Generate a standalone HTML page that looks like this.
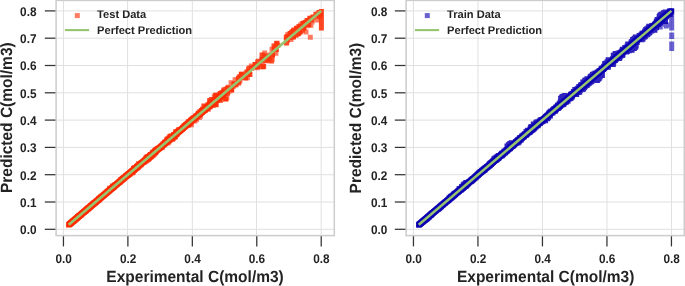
<!DOCTYPE html>
<html><head><meta charset="utf-8"><style>
html,body{margin:0;padding:0;background:#fff;}
svg{display:block;will-change:transform}
text{font-family:"Liberation Sans",sans-serif;font-weight:bold;fill:#232323;text-rendering:geometricPrecision}
.g{stroke:#e0e0e0;stroke-width:1}
.t{stroke:#333;stroke-width:1.25}
.tl{font-size:11.8px}
.al{font-size:15.5px}
.lg{font-size:11.1px}
</style></head><body>
<svg width="685" height="286" viewBox="0 0 685 286">
<rect width="685" height="286" fill="#fff"/>
<line x1="63.45" y1="0.4" x2="63.45" y2="235.6" class="g"/>
<line x1="127.59" y1="0.4" x2="127.59" y2="235.6" class="g"/>
<line x1="192.33" y1="0.4" x2="192.33" y2="235.6" class="g"/>
<line x1="256.47" y1="0.4" x2="256.47" y2="235.6" class="g"/>
<line x1="321.21" y1="0.4" x2="321.21" y2="235.6" class="g"/>
<line x1="56.1" y1="229.30" x2="334.3" y2="229.30" class="g"/>
<line x1="56.1" y1="202.00" x2="334.3" y2="202.00" class="g"/>
<line x1="56.1" y1="174.70" x2="334.3" y2="174.70" class="g"/>
<line x1="56.1" y1="147.40" x2="334.3" y2="147.40" class="g"/>
<line x1="56.1" y1="120.10" x2="334.3" y2="120.10" class="g"/>
<line x1="56.1" y1="92.80" x2="334.3" y2="92.80" class="g"/>
<line x1="56.1" y1="65.50" x2="334.3" y2="65.50" class="g"/>
<line x1="56.1" y1="38.20" x2="334.3" y2="38.20" class="g"/>
<line x1="56.1" y1="10.90" x2="334.3" y2="10.90" class="g"/>
<path d="M66.1 222.2L221.9 90.2h5.3v5.3L71.4 227.5h-5.3z" fill="#ff2a00"/>
<path d="M166.2 139.6h5v5h-5zM166.5 138.7h5v5h-5zM99.1 193.8h5v5h-5zM96.5 195.9h5v5h-5zM96.9 195.6h5v5h-5zM98.1 194.8h5v5h-5zM97.1 195.6h5v5h-5zM211.6 99.0h5v5h-5zM211.8 100.1h5v5h-5zM299.6 21.5h5v5h-5zM300.0 21.5h5v5h-5zM300.0 23.0h5v5h-5zM300.7 21.0h5v5h-5zM70.0 219.0h5v5h-5zM243.7 70.2h5v5h-5zM199.1 109.0h5v5h-5zM202.8 104.9h5v5h-5zM202.2 107.9h5v5h-5zM204.2 105.0h5v5h-5zM203.6 105.9h5v5h-5zM84.2 207.0h5v5h-5zM79.6 210.9h5v5h-5zM81.4 209.4h5v5h-5zM82.4 208.6h5v5h-5zM249.2 66.1h5v5h-5zM309.5 19.5h5v5h-5zM304.8 23.3h5v5h-5zM272.5 47.8h5v5h-5zM270.0 52.4h5v5h-5zM272.7 50.7h5v5h-5zM211.0 98.3h5v5h-5zM208.6 99.9h5v5h-5zM208.6 99.0h5v5h-5zM131.7 165.6h5v5h-5zM135.3 162.7h5v5h-5zM207.1 100.6h5v5h-5zM204.8 102.5h5v5h-5zM204.8 103.1h5v5h-5zM207.6 100.5h5v5h-5zM126.6 171.4h5v5h-5zM128.6 169.7h5v5h-5zM126.4 171.7h5v5h-5zM200.7 108.8h5v5h-5zM201.2 108.1h5v5h-5zM265.2 56.8h5v5h-5zM266.6 57.0h5v5h-5zM235.3 78.9h5v5h-5zM212.6 97.0h5v5h-5zM83.3 208.3h5v5h-5zM83.3 208.3h5v5h-5zM83.9 207.7h5v5h-5zM161.9 139.8h5v5h-5zM129.7 170.4h5v5h-5zM129.6 169.6h5v5h-5zM130.6 169.6h5v5h-5zM295.1 27.2h5v5h-5zM166.8 137.7h5v5h-5zM169.5 135.3h5v5h-5zM164.1 139.9h5v5h-5zM289.2 31.3h5v5h-5zM106.7 187.9h5v5h-5zM70.9 218.6h5v5h-5zM67.7 221.4h5v5h-5zM68.3 220.9h5v5h-5zM70.5 218.5h5v5h-5zM68.6 220.1h5v5h-5zM70.5 218.5h5v5h-5zM150.0 152.5h5v5h-5zM148.7 154.3h5v5h-5zM152.4 151.3h5v5h-5zM117.0 179.6h5v5h-5zM296.5 26.6h5v5h-5zM311.6 16.2h5v5h-5zM313.3 14.6h5v5h-5zM252.4 62.1h5v5h-5zM253.4 64.0h5v5h-5zM96.4 197.5h5v5h-5zM96.4 197.3h5v5h-5zM256.6 63.4h5v5h-5zM255.5 63.5h5v5h-5zM262.5 52.6h5v5h-5zM143.1 157.4h5v5h-5zM143.2 158.1h5v5h-5zM145.7 155.4h5v5h-5zM187.8 118.1h5v5h-5zM231.4 81.6h5v5h-5zM238.3 75.0h5v5h-5zM235.6 78.9h5v5h-5zM109.4 185.2h5v5h-5zM152.2 148.3h5v5h-5zM99.5 194.0h5v5h-5zM99.3 194.2h5v5h-5zM185.8 122.7h5v5h-5zM189.7 118.2h5v5h-5zM187.4 120.9h5v5h-5zM213.9 92.4h5v5h-5zM211.8 94.3h5v5h-5zM169.2 133.8h5v5h-5zM167.9 134.1h5v5h-5zM169.2 133.3h5v5h-5zM174.1 129.4h5v5h-5zM153.7 147.7h5v5h-5zM151.9 149.2h5v5h-5zM254.9 65.2h5v5h-5zM203.4 105.9h5v5h-5zM184.5 122.2h5v5h-5zM147.4 152.9h5v5h-5zM148.6 152.2h5v5h-5zM147.2 153.5h5v5h-5zM215.7 97.2h5v5h-5zM213.4 99.8h5v5h-5zM212.6 100.5h5v5h-5zM215.4 97.7h5v5h-5zM150.2 151.2h5v5h-5zM149.9 151.9h5v5h-5zM136.0 161.3h5v5h-5zM136.2 161.0h5v5h-5zM192.9 113.2h5v5h-5zM196.9 109.3h5v5h-5zM218.9 96.7h5v5h-5zM218.4 96.2h5v5h-5zM184.1 121.6h5v5h-5zM180.9 124.6h5v5h-5zM181.5 123.8h5v5h-5zM186.0 119.3h5v5h-5zM292.7 27.9h5v5h-5zM231.8 81.3h5v5h-5zM170.2 136.4h5v5h-5zM173.0 133.9h5v5h-5zM260.1 64.4h5v5h-5zM289.1 35.0h5v5h-5zM159.8 145.0h5v5h-5zM106.0 188.5h5v5h-5zM106.8 187.6h5v5h-5zM104.0 190.4h5v5h-5zM104.1 190.2h5v5h-5zM109.2 185.9h5v5h-5zM106.2 188.5h5v5h-5zM105.5 188.7h5v5h-5zM240.6 71.7h5v5h-5zM239.2 71.7h5v5h-5zM302.4 21.4h5v5h-5zM301.3 21.9h5v5h-5zM294.7 32.1h5v5h-5zM293.4 33.1h5v5h-5zM296.8 30.3h5v5h-5zM316.6 13.5h5v5h-5zM308.0 17.2h5v5h-5zM88.3 203.4h5v5h-5zM88.4 203.3h5v5h-5zM130.2 169.2h5v5h-5zM217.1 95.0h5v5h-5zM237.3 78.5h5v5h-5zM236.1 80.7h5v5h-5zM262.2 50.5h5v5h-5zM147.5 152.7h5v5h-5zM148.4 152.2h5v5h-5zM144.6 156.1h5v5h-5zM145.9 154.6h5v5h-5zM112.6 183.1h5v5h-5zM111.5 184.4h5v5h-5zM110.2 185.5h5v5h-5zM109.6 185.9h5v5h-5zM145.2 154.1h5v5h-5zM144.6 154.1h5v5h-5zM143.4 155.3h5v5h-5zM143.3 155.5h5v5h-5zM144.6 154.4h5v5h-5zM210.8 103.0h5v5h-5zM213.2 102.0h5v5h-5zM218.7 91.9h5v5h-5zM218.7 91.5h5v5h-5zM305.4 19.0h5v5h-5zM305.4 18.3h5v5h-5zM301.1 22.9h5v5h-5zM72.2 217.5h5v5h-5zM213.9 97.9h5v5h-5zM214.9 96.8h5v5h-5zM213.2 96.2h5v5h-5zM93.4 199.5h5v5h-5zM91.2 201.5h5v5h-5zM91.5 201.3h5v5h-5zM90.0 202.4h5v5h-5zM92.5 200.3h5v5h-5zM92.5 200.5h5v5h-5zM92.3 200.6h5v5h-5zM218.3 92.4h5v5h-5zM221.1 89.0h5v5h-5zM221.6 89.6h5v5h-5zM175.2 128.5h5v5h-5zM176.8 127.7h5v5h-5zM223.6 96.3h5v5h-5zM224.3 95.3h5v5h-5zM221.7 96.2h5v5h-5zM317.9 12.0h5v5h-5zM84.7 206.7h5v5h-5zM82.5 208.4h5v5h-5zM84.8 206.4h5v5h-5zM83.3 207.9h5v5h-5zM84.7 206.8h5v5h-5zM180.7 124.8h5v5h-5zM179.8 126.6h5v5h-5zM178.4 127.1h5v5h-5zM249.6 63.5h5v5h-5zM196.8 115.0h5v5h-5zM194.1 117.0h5v5h-5zM197.9 113.8h5v5h-5zM192.5 118.6h5v5h-5zM188.9 122.3h5v5h-5zM135.5 165.3h5v5h-5zM137.2 163.5h5v5h-5zM138.9 162.3h5v5h-5zM256.6 62.7h5v5h-5zM112.3 181.9h5v5h-5zM107.6 185.9h5v5h-5zM96.0 197.4h5v5h-5zM94.6 198.6h5v5h-5zM294.2 25.9h5v5h-5zM298.1 22.6h5v5h-5zM169.1 136.4h5v5h-5zM168.3 137.0h5v5h-5zM167.6 137.7h5v5h-5zM160.3 141.4h5v5h-5zM154.9 146.1h5v5h-5zM203.1 107.8h5v5h-5zM210.2 101.2h5v5h-5zM207.2 102.6h5v5h-5zM207.9 102.7h5v5h-5zM76.9 213.4h5v5h-5zM82.0 209.0h5v5h-5zM77.6 212.9h5v5h-5zM151.4 152.0h5v5h-5zM147.2 155.3h5v5h-5zM131.6 168.0h5v5h-5zM134.0 166.1h5v5h-5zM135.7 164.9h5v5h-5zM244.4 69.5h5v5h-5zM219.5 90.0h5v5h-5zM222.2 89.3h5v5h-5zM221.6 88.8h5v5h-5zM221.4 90.4h5v5h-5zM218.4 92.0h5v5h-5zM218.1 93.2h5v5h-5zM217.8 93.5h5v5h-5zM68.8 220.1h5v5h-5zM70.7 218.4h5v5h-5zM69.8 219.3h5v5h-5zM69.9 219.1h5v5h-5zM237.7 76.3h5v5h-5zM239.6 73.6h5v5h-5zM227.1 86.4h5v5h-5zM317.0 13.1h5v5h-5zM315.3 14.6h5v5h-5zM259.2 57.0h5v5h-5zM301.3 25.3h5v5h-5zM301.6 25.1h5v5h-5zM308.3 15.6h5v5h-5zM307.2 15.7h5v5h-5zM124.6 172.5h5v5h-5zM126.9 171.1h5v5h-5zM227.2 86.7h5v5h-5zM228.5 85.9h5v5h-5zM203.6 105.8h5v5h-5zM245.7 69.8h5v5h-5zM243.0 71.6h5v5h-5zM246.4 71.2h5v5h-5zM86.2 205.7h5v5h-5zM88.1 203.8h5v5h-5zM86.3 205.5h5v5h-5zM76.3 213.5h5v5h-5zM85.5 205.6h5v5h-5zM84.3 206.7h5v5h-5zM83.3 207.4h5v5h-5zM84.7 206.2h5v5h-5zM202.4 105.2h5v5h-5zM206.1 102.3h5v5h-5zM204.1 104.6h5v5h-5zM97.3 196.1h5v5h-5zM92.8 199.7h5v5h-5zM92.2 200.3h5v5h-5zM93.7 199.1h5v5h-5zM93.3 199.5h5v5h-5zM84.8 206.7h5v5h-5zM85.1 206.5h5v5h-5zM225.8 84.8h5v5h-5zM224.8 86.7h5v5h-5zM162.6 141.2h5v5h-5zM163.3 140.6h5v5h-5zM198.0 109.0h5v5h-5zM195.0 112.6h5v5h-5zM294.7 28.3h5v5h-5zM206.1 105.0h5v5h-5zM206.4 103.5h5v5h-5zM266.2 55.0h5v5h-5zM143.9 156.2h5v5h-5zM107.0 188.3h5v5h-5zM101.3 193.2h5v5h-5zM181.4 122.9h5v5h-5zM177.3 127.4h5v5h-5zM73.2 216.4h5v5h-5zM72.1 217.3h5v5h-5zM75.2 214.6h5v5h-5zM84.7 206.5h5v5h-5zM75.3 214.3h5v5h-5zM235.1 77.1h5v5h-5zM237.0 74.5h5v5h-5zM236.3 75.9h5v5h-5zM143.4 155.9h5v5h-5zM147.6 152.2h5v5h-5zM143.5 156.3h5v5h-5zM128.0 170.3h5v5h-5zM128.7 169.7h5v5h-5zM125.2 171.7h5v5h-5zM128.9 169.4h5v5h-5zM74.7 215.2h5v5h-5zM74.6 215.3h5v5h-5zM76.3 213.9h5v5h-5zM108.3 186.4h5v5h-5zM108.4 186.2h5v5h-5zM104.1 189.7h5v5h-5zM107.2 187.0h5v5h-5zM166.8 134.8h5v5h-5zM164.9 136.2h5v5h-5zM166.8 134.3h5v5h-5zM68.4 220.7h5v5h-5zM70.8 218.8h5v5h-5zM68.1 220.9h5v5h-5zM69.7 219.6h5v5h-5zM74.3 215.9h5v5h-5zM71.2 218.4h5v5h-5zM72.8 217.2h5v5h-5zM227.7 85.4h5v5h-5zM191.1 117.4h5v5h-5zM297.2 28.1h5v5h-5zM284.3 36.6h5v5h-5zM110.7 184.2h5v5h-5zM113.9 181.7h5v5h-5zM112.0 183.6h5v5h-5zM113.1 182.2h5v5h-5zM111.9 183.8h5v5h-5zM79.0 211.4h5v5h-5zM81.8 209.2h5v5h-5zM79.6 210.9h5v5h-5zM79.5 211.0h5v5h-5zM244.9 75.3h5v5h-5zM170.6 133.7h5v5h-5zM170.7 134.1h5v5h-5zM169.0 135.3h5v5h-5zM171.1 133.1h5v5h-5zM303.7 19.6h5v5h-5zM303.0 21.3h5v5h-5zM303.1 21.3h5v5h-5zM301.6 22.6h5v5h-5zM270.6 49.7h5v5h-5zM268.8 52.3h5v5h-5zM232.6 77.2h5v5h-5zM230.8 80.4h5v5h-5zM228.6 80.2h5v5h-5zM134.0 164.4h5v5h-5zM151.9 150.2h5v5h-5zM148.8 152.3h5v5h-5zM230.6 83.5h5v5h-5zM230.8 84.0h5v5h-5zM75.9 214.6h5v5h-5zM78.5 212.5h5v5h-5zM78.1 212.7h5v5h-5zM75.6 215.0h5v5h-5zM78.0 213.1h5v5h-5zM104.6 189.7h5v5h-5zM101.2 192.3h5v5h-5zM116.0 179.7h5v5h-5zM117.1 178.9h5v5h-5zM205.9 106.8h5v5h-5zM241.5 74.5h5v5h-5zM241.8 74.8h5v5h-5zM134.9 163.6h5v5h-5zM273.4 48.0h5v5h-5zM273.4 50.8h5v5h-5zM314.6 13.8h5v5h-5zM134.7 163.9h5v5h-5zM134.8 164.1h5v5h-5zM134.2 164.3h5v5h-5zM136.0 162.7h5v5h-5zM87.4 204.6h5v5h-5zM86.6 205.3h5v5h-5zM86.4 205.5h5v5h-5zM295.0 28.2h5v5h-5zM296.9 28.0h5v5h-5zM121.0 175.0h5v5h-5zM119.7 176.0h5v5h-5zM120.1 175.8h5v5h-5zM127.5 170.2h5v5h-5zM129.1 168.9h5v5h-5zM128.1 169.7h5v5h-5zM133.2 167.0h5v5h-5zM221.9 92.1h5v5h-5zM118.3 177.8h5v5h-5zM119.3 176.9h5v5h-5zM244.3 72.1h5v5h-5zM247.0 68.9h5v5h-5zM273.9 41.6h5v5h-5zM226.5 87.4h5v5h-5zM226.2 88.4h5v5h-5zM227.1 88.6h5v5h-5zM225.5 88.7h5v5h-5zM174.4 131.3h5v5h-5zM176.6 128.5h5v5h-5zM173.9 131.4h5v5h-5zM172.6 132.2h5v5h-5zM173.8 131.6h5v5h-5zM228.8 88.1h5v5h-5zM229.1 87.4h5v5h-5zM291.4 28.2h5v5h-5zM217.4 92.9h5v5h-5zM216.6 92.4h5v5h-5zM221.6 89.1h5v5h-5zM216.6 93.6h5v5h-5zM137.5 161.8h5v5h-5zM136.8 162.3h5v5h-5zM204.1 105.7h5v5h-5zM206.9 103.2h5v5h-5zM206.7 103.8h5v5h-5zM156.1 146.0h5v5h-5zM154.2 146.6h5v5h-5zM191.0 117.3h5v5h-5zM190.0 118.4h5v5h-5zM82.2 209.0h5v5h-5zM83.0 208.4h5v5h-5zM82.0 209.1h5v5h-5zM84.3 207.1h5v5h-5zM237.4 73.9h5v5h-5zM117.4 179.3h5v5h-5zM118.5 178.0h5v5h-5zM190.5 117.3h5v5h-5zM190.5 116.2h5v5h-5zM189.1 116.9h5v5h-5zM186.6 119.0h5v5h-5zM143.8 157.6h5v5h-5zM140.9 159.7h5v5h-5zM143.8 158.5h5v5h-5zM145.1 156.9h5v5h-5zM295.0 26.5h5v5h-5zM309.0 18.0h5v5h-5zM288.5 37.0h5v5h-5zM165.5 137.4h5v5h-5zM73.3 216.0h5v5h-5zM90.2 201.9h5v5h-5zM173.9 130.9h5v5h-5zM169.8 133.7h5v5h-5zM171.5 132.0h5v5h-5zM103.8 190.6h5v5h-5zM102.8 191.2h5v5h-5zM101.7 192.2h5v5h-5zM253.0 62.1h5v5h-5zM85.1 206.4h5v5h-5zM86.1 205.5h5v5h-5zM150.4 152.4h5v5h-5zM125.8 173.0h5v5h-5zM126.5 172.0h5v5h-5zM127.5 171.8h5v5h-5zM107.8 186.8h5v5h-5zM110.8 184.1h5v5h-5zM109.5 184.9h5v5h-5zM175.3 130.1h5v5h-5zM174.6 131.6h5v5h-5zM174.8 130.6h5v5h-5zM167.3 135.8h5v5h-5zM99.6 193.4h5v5h-5zM204.0 104.3h5v5h-5zM199.8 108.3h5v5h-5zM219.2 95.3h5v5h-5zM216.5 97.2h5v5h-5zM145.3 157.0h5v5h-5zM145.1 157.4h5v5h-5zM148.9 154.0h5v5h-5zM196.7 112.3h5v5h-5zM196.3 112.6h5v5h-5zM94.6 198.3h5v5h-5zM96.1 197.2h5v5h-5zM95.1 198.0h5v5h-5zM96.2 196.9h5v5h-5zM88.2 203.6h5v5h-5zM89.1 203.0h5v5h-5zM88.1 203.8h5v5h-5zM134.9 164.7h5v5h-5zM135.0 164.3h5v5h-5zM134.8 164.8h5v5h-5zM165.4 140.5h5v5h-5zM132.2 165.5h5v5h-5zM132.3 165.4h5v5h-5zM134.5 165.2h5v5h-5zM173.7 131.8h5v5h-5zM174.2 131.8h5v5h-5zM91.2 200.7h5v5h-5zM212.6 97.3h5v5h-5zM215.4 96.2h5v5h-5zM150.5 152.5h5v5h-5zM151.2 152.0h5v5h-5zM149.4 153.4h5v5h-5zM148.1 155.0h5v5h-5zM151.1 152.7h5v5h-5zM148.3 154.5h5v5h-5zM289.6 29.8h5v5h-5zM88.6 203.5h5v5h-5zM86.9 204.9h5v5h-5zM86.5 205.3h5v5h-5zM90.7 201.8h5v5h-5zM85.5 206.3h5v5h-5zM87.2 204.8h5v5h-5zM83.6 207.9h5v5h-5zM166.2 137.7h5v5h-5zM163.9 139.2h5v5h-5zM163.0 139.9h5v5h-5zM162.3 140.6h5v5h-5zM149.4 153.6h5v5h-5zM149.3 153.9h5v5h-5zM219.3 95.4h5v5h-5zM217.9 97.9h5v5h-5zM217.4 98.1h5v5h-5zM296.8 30.2h5v5h-5zM244.7 69.2h5v5h-5zM243.8 71.2h5v5h-5zM248.9 63.5h5v5h-5zM288.8 30.5h5v5h-5zM190.8 116.0h5v5h-5zM87.1 204.5h5v5h-5zM197.0 110.9h5v5h-5zM200.9 108.4h5v5h-5zM199.8 109.4h5v5h-5zM70.6 218.7h5v5h-5zM69.9 219.3h5v5h-5zM68.1 220.7h5v5h-5zM303.5 29.4h5v5h-5zM307.8 34.8h5v5h-5zM308.4 22.7h5v5h-5zM314.5 17.5h5v5h-5zM294.5 25.5h5v5h-5zM300.0 21.5h5v5h-5zM308.5 18.0h5v5h-5zM285.3 32.1h5v5h-5zM273.8 42.5h5v5h-5zM269.5 46.8h5v5h-5z" fill="#ff2a00" fill-opacity="0.62"/>
<path d="M168.8 136.3h5v5h-5zM96.6 196.1h5v5h-5zM98.4 194.5h5v5h-5zM212.1 100.2h5v5h-5zM300.3 21.4h5v5h-5zM303.0 19.9h5v5h-5zM70.1 219.0h5v5h-5zM200.8 108.3h5v5h-5zM81.3 209.5h5v5h-5zM81.3 209.4h5v5h-5zM306.2 22.2h5v5h-5zM270.1 52.2h5v5h-5zM134.7 163.5h5v5h-5zM131.0 166.0h5v5h-5zM131.4 166.0h5v5h-5zM134.2 163.9h5v5h-5zM206.5 101.7h5v5h-5zM201.8 107.5h5v5h-5zM274.5 40.8h5v5h-5zM274.3 41.0h5v5h-5zM267.5 53.2h5v5h-5zM264.8 58.3h5v5h-5zM236.1 79.0h5v5h-5zM236.3 79.4h5v5h-5zM213.2 96.0h5v5h-5zM211.6 97.5h5v5h-5zM213.8 94.9h5v5h-5zM83.4 208.1h5v5h-5zM84.1 207.7h5v5h-5zM83.1 208.5h5v5h-5zM162.3 139.8h5v5h-5zM129.7 169.7h5v5h-5zM130.1 169.9h5v5h-5zM296.3 25.9h5v5h-5zM101.4 192.7h5v5h-5zM70.1 219.3h5v5h-5zM116.8 179.8h5v5h-5zM296.5 26.0h5v5h-5zM251.9 64.4h5v5h-5zM94.1 199.3h5v5h-5zM255.5 64.1h5v5h-5zM259.9 54.1h5v5h-5zM261.2 53.6h5v5h-5zM260.2 54.0h5v5h-5zM143.2 158.2h5v5h-5zM145.0 156.2h5v5h-5zM190.6 115.4h5v5h-5zM188.2 117.7h5v5h-5zM271.7 47.1h5v5h-5zM273.8 47.0h5v5h-5zM108.4 186.0h5v5h-5zM109.1 185.5h5v5h-5zM150.2 149.7h5v5h-5zM152.5 148.4h5v5h-5zM153.1 147.3h5v5h-5zM151.7 148.9h5v5h-5zM96.2 196.9h5v5h-5zM101.8 191.8h5v5h-5zM99.0 194.5h5v5h-5zM187.6 119.6h5v5h-5zM188.1 120.4h5v5h-5zM213.1 93.8h5v5h-5zM212.9 93.0h5v5h-5zM149.9 151.9h5v5h-5zM171.3 132.0h5v5h-5zM176.6 127.4h5v5h-5zM153.8 147.7h5v5h-5zM153.7 147.9h5v5h-5zM155.5 145.8h5v5h-5zM255.7 61.3h5v5h-5zM186.3 122.2h5v5h-5zM184.0 122.9h5v5h-5zM184.9 122.1h5v5h-5zM186.9 119.2h5v5h-5zM150.3 150.9h5v5h-5zM147.4 153.3h5v5h-5zM216.9 97.0h5v5h-5zM150.1 151.2h5v5h-5zM195.7 110.7h5v5h-5zM217.3 97.3h5v5h-5zM217.2 96.8h5v5h-5zM210.9 99.6h5v5h-5zM208.9 99.5h5v5h-5zM212.4 97.3h5v5h-5zM183.1 122.0h5v5h-5zM185.6 119.7h5v5h-5zM83.3 207.8h5v5h-5zM231.4 81.4h5v5h-5zM261.1 64.0h5v5h-5zM111.2 184.2h5v5h-5zM291.0 34.6h5v5h-5zM290.8 32.2h5v5h-5zM289.9 33.2h5v5h-5zM275.3 42.7h5v5h-5zM158.2 145.3h5v5h-5zM200.0 106.8h5v5h-5zM198.9 108.0h5v5h-5zM200.1 107.4h5v5h-5zM201.4 103.5h5v5h-5zM239.4 72.8h5v5h-5zM238.8 71.8h5v5h-5zM298.5 26.1h5v5h-5zM295.9 31.0h5v5h-5zM316.4 13.7h5v5h-5zM307.6 16.3h5v5h-5zM308.7 17.4h5v5h-5zM87.0 204.4h5v5h-5zM88.7 203.2h5v5h-5zM90.6 201.4h5v5h-5zM89.0 202.8h5v5h-5zM90.4 201.8h5v5h-5zM132.0 167.8h5v5h-5zM130.4 169.5h5v5h-5zM129.9 169.5h5v5h-5zM221.2 92.2h5v5h-5zM232.3 82.5h5v5h-5zM259.6 52.5h5v5h-5zM147.2 153.6h5v5h-5zM148.0 152.1h5v5h-5zM148.3 152.4h5v5h-5zM111.5 184.4h5v5h-5zM108.0 187.0h5v5h-5zM109.7 185.8h5v5h-5zM144.4 155.0h5v5h-5zM213.6 102.3h5v5h-5zM219.7 90.4h5v5h-5zM217.2 92.5h5v5h-5zM304.6 17.9h5v5h-5zM303.2 22.0h5v5h-5zM305.1 18.6h5v5h-5zM71.3 218.2h5v5h-5zM72.5 217.2h5v5h-5zM73.4 216.4h5v5h-5zM212.6 98.6h5v5h-5zM91.4 201.3h5v5h-5zM90.8 202.0h5v5h-5zM88.1 203.9h5v5h-5zM221.0 91.2h5v5h-5zM176.2 127.2h5v5h-5zM173.2 129.3h5v5h-5zM223.2 96.5h5v5h-5zM313.4 12.0h5v5h-5zM317.9 12.2h5v5h-5zM81.8 209.0h5v5h-5zM82.7 208.3h5v5h-5zM79.9 210.7h5v5h-5zM81.0 209.8h5v5h-5zM180.0 126.2h5v5h-5zM180.6 125.2h5v5h-5zM178.6 127.3h5v5h-5zM247.1 65.5h5v5h-5zM120.1 176.9h5v5h-5zM121.3 176.2h5v5h-5zM117.8 179.2h5v5h-5zM257.0 61.4h5v5h-5zM259.9 58.8h5v5h-5zM107.3 185.7h5v5h-5zM110.0 183.5h5v5h-5zM96.2 197.5h5v5h-5zM96.9 196.7h5v5h-5zM294.0 26.1h5v5h-5zM172.5 132.7h5v5h-5zM159.4 143.2h5v5h-5zM206.3 103.9h5v5h-5zM81.3 209.6h5v5h-5zM223.6 86.8h5v5h-5zM217.5 91.9h5v5h-5zM218.3 92.9h5v5h-5zM220.2 91.6h5v5h-5zM238.4 74.9h5v5h-5zM227.4 86.4h5v5h-5zM227.3 86.7h5v5h-5zM263.7 53.4h5v5h-5zM301.3 25.8h5v5h-5zM268.5 56.9h5v5h-5zM268.9 58.4h5v5h-5zM269.5 57.1h5v5h-5zM126.3 171.0h5v5h-5zM125.3 172.5h5v5h-5zM124.1 173.6h5v5h-5zM126.4 171.9h5v5h-5zM228.2 86.3h5v5h-5zM207.5 101.0h5v5h-5zM204.8 105.7h5v5h-5zM203.7 105.7h5v5h-5zM204.9 104.2h5v5h-5zM240.6 72.8h5v5h-5zM235.8 77.4h5v5h-5zM87.3 204.8h5v5h-5zM84.0 207.4h5v5h-5zM86.5 205.4h5v5h-5zM83.2 208.2h5v5h-5zM76.4 213.6h5v5h-5zM74.9 214.9h5v5h-5zM201.7 105.2h5v5h-5zM203.9 103.7h5v5h-5zM96.3 197.0h5v5h-5zM84.3 207.1h5v5h-5zM88.1 204.0h5v5h-5zM223.3 86.8h5v5h-5zM225.2 85.9h5v5h-5zM221.4 87.6h5v5h-5zM225.6 85.4h5v5h-5zM207.7 104.2h5v5h-5zM208.6 103.0h5v5h-5zM206.5 103.5h5v5h-5zM268.1 52.8h5v5h-5zM142.9 157.0h5v5h-5zM142.1 157.9h5v5h-5zM72.2 217.2h5v5h-5zM73.2 216.2h5v5h-5zM73.1 216.4h5v5h-5zM82.6 208.4h5v5h-5zM75.4 214.3h5v5h-5zM75.1 214.5h5v5h-5zM72.2 216.9h5v5h-5zM236.3 75.4h5v5h-5zM145.7 154.2h5v5h-5zM128.0 170.0h5v5h-5zM127.6 170.3h5v5h-5zM129.4 168.6h5v5h-5zM128.0 169.7h5v5h-5zM74.6 215.2h5v5h-5zM72.9 216.7h5v5h-5zM108.4 186.1h5v5h-5zM109.4 185.3h5v5h-5zM166.5 135.7h5v5h-5zM167.9 133.7h5v5h-5zM164.2 137.3h5v5h-5zM68.9 220.3h5v5h-5zM70.8 218.6h5v5h-5zM69.7 219.5h5v5h-5zM73.1 216.8h5v5h-5zM72.9 216.9h5v5h-5zM70.4 219.2h5v5h-5zM192.9 115.2h5v5h-5zM218.1 94.7h5v5h-5zM293.0 31.7h5v5h-5zM284.7 38.1h5v5h-5zM283.9 40.5h5v5h-5zM287.1 35.1h5v5h-5zM291.9 31.4h5v5h-5zM112.5 182.9h5v5h-5zM67.0 221.7h5v5h-5zM68.3 220.5h5v5h-5zM80.7 210.0h5v5h-5zM83.7 207.6h5v5h-5zM247.4 72.0h5v5h-5zM171.6 133.0h5v5h-5zM300.3 23.5h5v5h-5zM131.9 165.5h5v5h-5zM134.0 164.3h5v5h-5zM132.5 165.2h5v5h-5zM150.3 151.3h5v5h-5zM151.4 150.5h5v5h-5zM233.5 82.3h5v5h-5zM232.3 81.3h5v5h-5zM78.7 212.2h5v5h-5zM103.7 190.0h5v5h-5zM103.9 190.3h5v5h-5zM101.7 191.9h5v5h-5zM243.1 75.4h5v5h-5zM132.3 165.7h5v5h-5zM134.9 163.5h5v5h-5zM191.3 115.3h5v5h-5zM131.6 166.7h5v5h-5zM86.7 205.2h5v5h-5zM84.5 206.9h5v5h-5zM86.1 205.6h5v5h-5zM85.4 206.3h5v5h-5zM118.4 177.1h5v5h-5zM123.3 173.3h5v5h-5zM224.9 90.8h5v5h-5zM120.2 176.4h5v5h-5zM117.9 178.3h5v5h-5zM244.7 70.4h5v5h-5zM272.7 47.0h5v5h-5zM225.2 89.5h5v5h-5zM229.0 86.4h5v5h-5zM227.9 86.4h5v5h-5zM174.3 131.4h5v5h-5zM229.2 87.0h5v5h-5zM183.8 121.7h5v5h-5zM291.3 28.4h5v5h-5zM292.0 27.8h5v5h-5zM217.6 90.9h5v5h-5zM218.2 93.1h5v5h-5zM217.0 93.6h5v5h-5zM138.0 161.2h5v5h-5zM138.9 160.1h5v5h-5zM83.0 208.4h5v5h-5zM81.6 209.6h5v5h-5zM119.3 177.3h5v5h-5zM121.1 176.0h5v5h-5zM238.6 74.1h5v5h-5zM119.8 176.8h5v5h-5zM119.0 177.6h5v5h-5zM283.8 35.1h5v5h-5zM285.5 34.0h5v5h-5zM189.6 116.6h5v5h-5zM188.7 117.5h5v5h-5zM142.1 159.5h5v5h-5zM146.7 156.1h5v5h-5zM290.6 29.0h5v5h-5zM284.2 39.4h5v5h-5zM165.5 137.0h5v5h-5zM166.4 136.5h5v5h-5zM201.0 107.9h5v5h-5zM76.2 213.7h5v5h-5zM101.6 192.3h5v5h-5zM101.9 192.2h5v5h-5zM105.5 188.8h5v5h-5zM255.2 59.4h5v5h-5zM252.9 62.1h5v5h-5zM256.1 58.7h5v5h-5zM84.6 206.7h5v5h-5zM85.1 206.4h5v5h-5zM149.5 153.0h5v5h-5zM130.4 169.0h5v5h-5zM111.9 183.4h5v5h-5zM178.4 127.2h5v5h-5zM172.4 133.2h5v5h-5zM174.2 132.0h5v5h-5zM170.1 133.7h5v5h-5zM271.9 45.8h5v5h-5zM273.5 44.9h5v5h-5zM273.5 45.2h5v5h-5zM273.8 44.6h5v5h-5zM104.7 189.3h5v5h-5zM104.1 189.9h5v5h-5zM217.1 96.6h5v5h-5zM146.0 156.7h5v5h-5zM145.4 156.2h5v5h-5zM146.0 156.6h5v5h-5zM95.2 197.8h5v5h-5zM92.7 200.2h5v5h-5zM86.4 205.3h5v5h-5zM89.4 202.7h5v5h-5zM135.5 164.4h5v5h-5zM170.1 136.6h5v5h-5zM170.6 136.1h5v5h-5zM134.8 165.2h5v5h-5zM135.3 164.1h5v5h-5zM132.1 166.6h5v5h-5zM172.4 134.8h5v5h-5zM171.2 134.4h5v5h-5zM173.8 132.3h5v5h-5zM91.0 201.0h5v5h-5zM91.8 200.3h5v5h-5zM89.6 202.3h5v5h-5zM91.0 201.0h5v5h-5zM90.7 201.3h5v5h-5zM87.1 204.5h5v5h-5zM87.8 203.7h5v5h-5zM91.6 200.6h5v5h-5zM214.4 97.9h5v5h-5zM153.4 149.9h5v5h-5zM293.3 28.9h5v5h-5zM290.1 29.7h5v5h-5zM287.6 33.0h5v5h-5zM288.2 31.0h5v5h-5zM88.6 203.3h5v5h-5zM207.2 98.1h5v5h-5zM209.1 97.1h5v5h-5zM162.5 140.3h5v5h-5zM147.0 155.0h5v5h-5zM148.7 153.9h5v5h-5zM148.6 154.1h5v5h-5zM297.9 29.3h5v5h-5zM299.8 27.7h5v5h-5zM246.1 66.6h5v5h-5zM284.0 34.5h5v5h-5zM289.6 29.8h5v5h-5zM85.7 205.6h5v5h-5zM85.6 205.9h5v5h-5zM68.5 220.5h5v5h-5zM70.3 219.0h5v5h-5zM70.1 219.2h5v5h-5zM318.9 9.0h5v5h-5zM318.9 11.4h5v5h-5zM318.9 13.7h5v5h-5zM318.9 16.1h5v5h-5zM318.9 18.4h5v5h-5zM318.9 20.8h5v5h-5zM318.9 23.1h5v5h-5zM318.9 25.5h5v5h-5zM287.5 31.0h5v5h-5zM291.5 27.5h5v5h-5zM296.5 24.0h5v5h-5zM301.5 20.5h5v5h-5zM305.5 18.5h5v5h-5zM310.5 14.5h5v5h-5zM314.5 11.5h5v5h-5zM316.5 10.0h5v5h-5zM271.5 43.5h5v5h-5z" fill="#ff2a00" fill-opacity="0.86"/>
<path d="" fill="#ff2a00" fill-opacity="1"/>
<line x1="68.73" y1="224.82" x2="321.21" y2="10.90" stroke="#97c46f" stroke-width="2.65" stroke-linecap="butt"/>
<rect x="56.1" y="0.4" width="278.2" height="235.2" fill="none" stroke="#cccccc" stroke-width="1.5"/>
<line x1="44.8" y1="229.30" x2="55.4" y2="229.30" class="t"/>
<text transform="translate(36.5,234.25) scale(1,1.07)" class="tl" text-anchor="end">0.0</text>
<line x1="44.8" y1="202.00" x2="55.4" y2="202.00" class="t"/>
<text transform="translate(36.5,206.95) scale(1,1.07)" class="tl" text-anchor="end">0.1</text>
<line x1="44.8" y1="174.70" x2="55.4" y2="174.70" class="t"/>
<text transform="translate(36.5,179.65) scale(1,1.07)" class="tl" text-anchor="end">0.2</text>
<line x1="44.8" y1="147.40" x2="55.4" y2="147.40" class="t"/>
<text transform="translate(36.5,152.35) scale(1,1.07)" class="tl" text-anchor="end">0.3</text>
<line x1="44.8" y1="120.10" x2="55.4" y2="120.10" class="t"/>
<text transform="translate(36.5,125.05) scale(1,1.07)" class="tl" text-anchor="end">0.4</text>
<line x1="44.8" y1="92.80" x2="55.4" y2="92.80" class="t"/>
<text transform="translate(36.5,97.75) scale(1,1.07)" class="tl" text-anchor="end">0.5</text>
<line x1="44.8" y1="65.50" x2="55.4" y2="65.50" class="t"/>
<text transform="translate(36.5,70.45) scale(1,1.07)" class="tl" text-anchor="end">0.6</text>
<line x1="44.8" y1="38.20" x2="55.4" y2="38.20" class="t"/>
<text transform="translate(36.5,43.15) scale(1,1.07)" class="tl" text-anchor="end">0.7</text>
<line x1="44.8" y1="10.90" x2="55.4" y2="10.90" class="t"/>
<text transform="translate(36.5,15.85) scale(1,1.07)" class="tl" text-anchor="end">0.8</text>
<line x1="63.45" y1="236.3" x2="63.45" y2="246.4" class="t"/>
<text transform="translate(63.65,263.3) scale(1,1.07)" class="tl" text-anchor="middle">0.0</text>
<line x1="127.89" y1="236.3" x2="127.89" y2="246.4" class="t"/>
<text transform="translate(128.09,263.3) scale(1,1.07)" class="tl" text-anchor="middle">0.2</text>
<line x1="192.33" y1="236.3" x2="192.33" y2="246.4" class="t"/>
<text transform="translate(192.53,263.3) scale(1,1.07)" class="tl" text-anchor="middle">0.4</text>
<line x1="256.77" y1="236.3" x2="256.77" y2="246.4" class="t"/>
<text transform="translate(256.97,263.3) scale(1,1.07)" class="tl" text-anchor="middle">0.6</text>
<line x1="321.21" y1="236.3" x2="321.21" y2="246.4" class="t"/>
<text transform="translate(321.41,263.3) scale(1,1.07)" class="tl" text-anchor="middle">0.8</text>
<text transform="translate(195.05,282.2) scale(1,1.05)" class="al" text-anchor="middle">Experimental C(mol/m3)</text>
<text transform="translate(11.6,117.7) rotate(-90) scale(1,1.05)" class="al" text-anchor="middle">Predicted C(mol/m3)</text>
<rect x="74.8" y="13.1" width="5" height="5" fill="#ff2a00" fill-opacity="0.62"/>
<line x1="64.9" y1="30.1" x2="89.1" y2="30.1" stroke="#97c46f" stroke-width="2.1"/>
<text x="97.1" y="18.4" class="lg">Test Data</text>
<text x="97.1" y="33.6" class="lg">Perfect Prediction</text>
<line x1="413.45" y1="0.4" x2="413.45" y2="235.6" class="g"/>
<line x1="477.95" y1="0.4" x2="477.95" y2="235.6" class="g"/>
<line x1="542.45" y1="0.4" x2="542.45" y2="235.6" class="g"/>
<line x1="606.95" y1="0.4" x2="606.95" y2="235.6" class="g"/>
<line x1="671.45" y1="0.4" x2="671.45" y2="235.6" class="g"/>
<line x1="406.1" y1="229.30" x2="684.3" y2="229.30" class="g"/>
<line x1="406.1" y1="202.00" x2="684.3" y2="202.00" class="g"/>
<line x1="406.1" y1="174.70" x2="684.3" y2="174.70" class="g"/>
<line x1="406.1" y1="147.40" x2="684.3" y2="147.40" class="g"/>
<line x1="406.1" y1="120.10" x2="684.3" y2="120.10" class="g"/>
<line x1="406.1" y1="92.80" x2="684.3" y2="92.80" class="g"/>
<line x1="406.1" y1="65.50" x2="684.3" y2="65.50" class="g"/>
<line x1="406.1" y1="38.20" x2="684.3" y2="38.20" class="g"/>
<line x1="406.1" y1="10.90" x2="684.3" y2="10.90" class="g"/>
<path d="M416.1 222.2L668.8 8.3h5.3v5.3L421.4 227.5h-5.3z" fill="#0c00b2"/>
<path d="M669.2 9.0h5v5h-5zM669.2 10.8h5v5h-5zM669.2 12.7h5v5h-5zM669.2 14.5h5v5h-5zM669.2 16.3h5v5h-5zM669.2 18.2h5v5h-5zM669.2 20.0h5v5h-5zM669.2 21.8h5v5h-5zM669.2 23.7h5v5h-5zM669.2 25.5h5v5h-5zM669.2 32.5h5v5h-5zM669.2 34.0h5v5h-5zM669.2 41.5h5v5h-5zM669.2 46.0h5v5h-5zM669.2 44.5h5v5h-5zM661.7 21.5h5v5h-5zM663.7 23.5h5v5h-5zM659.7 20.5h5v5h-5zM665.7 22.5h5v5h-5zM657.7 24.5h5v5h-5z" fill="#0c00b2" fill-opacity="0.62"/>
<path d="M521.2 133.4h5v5h-5zM520.1 134.2h5v5h-5zM520.9 133.7h5v5h-5zM523.8 131.5h5v5h-5zM521.9 133.1h5v5h-5zM521.6 133.0h5v5h-5zM520.3 134.3h5v5h-5zM521.5 133.4h5v5h-5zM527.0 129.2h5v5h-5zM532.3 125.3h5v5h-5zM531.0 126.4h5v5h-5zM528.6 128.3h5v5h-5zM531.6 126.0h5v5h-5zM529.4 127.8h5v5h-5zM530.7 126.2h5v5h-5zM529.0 127.9h5v5h-5zM530.3 127.6h5v5h-5zM529.3 127.8h5v5h-5zM529.9 127.2h5v5h-5zM526.7 130.0h5v5h-5zM476.9 170.6h5v5h-5zM480.1 168.2h5v5h-5zM477.4 169.8h5v5h-5zM474.2 172.6h5v5h-5zM477.4 169.8h5v5h-5zM479.5 168.2h5v5h-5zM575.6 89.0h5v5h-5zM573.3 91.8h5v5h-5zM575.1 89.4h5v5h-5zM579.0 86.1h5v5h-5zM576.0 88.5h5v5h-5zM575.9 89.8h5v5h-5zM580.1 85.9h5v5h-5zM573.7 90.6h5v5h-5zM575.3 89.7h5v5h-5zM480.1 168.7h5v5h-5zM479.1 169.5h5v5h-5zM479.7 168.9h5v5h-5zM482.0 167.3h5v5h-5zM481.5 167.7h5v5h-5zM480.6 168.5h5v5h-5zM481.3 167.5h5v5h-5zM479.4 169.3h5v5h-5zM520.7 134.5h5v5h-5zM522.5 132.3h5v5h-5zM521.0 133.4h5v5h-5zM520.8 134.0h5v5h-5zM523.6 131.7h5v5h-5zM520.5 133.9h5v5h-5zM520.6 133.8h5v5h-5zM521.4 133.7h5v5h-5zM519.5 135.3h5v5h-5zM522.1 133.0h5v5h-5zM557.1 102.1h5v5h-5zM553.1 106.0h5v5h-5zM557.6 102.6h5v5h-5zM462.5 183.6h5v5h-5zM465.4 181.0h5v5h-5zM466.4 180.1h5v5h-5zM463.0 183.3h5v5h-5zM462.9 183.0h5v5h-5zM465.1 181.2h5v5h-5zM466.5 180.2h5v5h-5zM463.0 183.2h5v5h-5zM464.6 181.5h5v5h-5zM466.3 180.6h5v5h-5zM662.7 13.4h5v5h-5zM664.3 11.0h5v5h-5zM661.6 13.5h5v5h-5zM664.2 11.3h5v5h-5zM457.8 187.0h5v5h-5zM455.8 188.7h5v5h-5zM454.4 189.7h5v5h-5zM457.0 187.5h5v5h-5zM455.4 189.5h5v5h-5zM455.8 188.9h5v5h-5zM456.3 188.3h5v5h-5zM455.6 188.9h5v5h-5zM459.1 186.1h5v5h-5zM456.2 188.4h5v5h-5zM456.9 187.5h5v5h-5zM454.4 190.1h5v5h-5zM457.0 187.7h5v5h-5zM455.9 188.7h5v5h-5zM453.6 190.5h5v5h-5zM416.6 222.4h5v5h-5zM416.4 222.5h5v5h-5zM416.9 222.0h5v5h-5zM418.6 220.6h5v5h-5zM638.4 32.3h5v5h-5zM636.6 34.2h5v5h-5zM640.5 30.5h5v5h-5zM635.3 35.7h5v5h-5zM636.7 32.9h5v5h-5zM639.6 30.8h5v5h-5zM636.6 33.2h5v5h-5zM639.1 32.4h5v5h-5zM618.5 52.7h5v5h-5zM618.6 52.6h5v5h-5zM617.0 55.6h5v5h-5zM620.4 52.2h5v5h-5zM618.0 53.8h5v5h-5zM466.7 179.7h5v5h-5zM468.9 178.4h5v5h-5zM469.0 178.1h5v5h-5zM469.5 177.6h5v5h-5zM469.0 177.9h5v5h-5zM468.7 178.3h5v5h-5zM467.1 179.6h5v5h-5zM468.8 178.1h5v5h-5zM470.4 176.8h5v5h-5zM468.8 177.8h5v5h-5zM662.7 9.6h5v5h-5zM663.0 18.9h5v5h-5zM656.7 13.8h5v5h-5zM657.8 12.5h5v5h-5zM658.6 11.7h5v5h-5zM661.1 10.2h5v5h-5zM505.1 148.1h5v5h-5zM506.6 146.1h5v5h-5zM506.8 146.6h5v5h-5zM506.6 146.7h5v5h-5zM503.4 149.4h5v5h-5zM507.9 145.7h5v5h-5zM503.6 149.1h5v5h-5zM508.4 145.0h5v5h-5zM564.0 94.7h5v5h-5zM564.7 94.4h5v5h-5zM563.0 95.4h5v5h-5zM560.8 96.9h5v5h-5zM562.9 95.4h5v5h-5zM563.2 95.2h5v5h-5zM564.9 93.6h5v5h-5zM619.9 49.6h5v5h-5zM622.8 45.7h5v5h-5zM620.5 49.0h5v5h-5zM621.1 48.3h5v5h-5zM619.6 49.4h5v5h-5zM618.1 50.7h5v5h-5zM489.8 158.8h5v5h-5zM487.8 160.3h5v5h-5zM490.1 158.7h5v5h-5zM489.0 159.6h5v5h-5zM491.0 157.9h5v5h-5zM489.1 159.7h5v5h-5zM489.4 159.5h5v5h-5zM488.0 160.5h5v5h-5zM584.0 77.2h5v5h-5zM584.5 76.3h5v5h-5zM581.1 80.7h5v5h-5zM584.6 76.7h5v5h-5zM585.3 76.9h5v5h-5zM582.6 77.4h5v5h-5zM582.1 78.5h5v5h-5zM489.5 160.0h5v5h-5zM490.1 159.9h5v5h-5zM491.6 157.9h5v5h-5zM495.0 155.4h5v5h-5zM489.4 160.0h5v5h-5zM489.0 160.1h5v5h-5zM490.5 159.2h5v5h-5zM490.4 159.5h5v5h-5zM490.9 158.8h5v5h-5zM494.5 155.9h5v5h-5zM493.0 157.3h5v5h-5zM469.3 177.9h5v5h-5zM471.2 176.4h5v5h-5zM468.6 178.7h5v5h-5zM471.3 176.6h5v5h-5zM469.2 178.0h5v5h-5zM475.9 172.8h5v5h-5zM468.2 179.1h5v5h-5zM472.2 175.6h5v5h-5zM474.6 173.5h5v5h-5zM468.6 178.5h5v5h-5zM532.9 123.9h5v5h-5zM531.5 124.2h5v5h-5zM533.0 123.6h5v5h-5zM534.1 122.2h5v5h-5zM531.4 125.1h5v5h-5zM532.2 124.3h5v5h-5zM533.1 123.3h5v5h-5zM530.4 125.2h5v5h-5zM420.7 218.5h5v5h-5zM418.5 220.4h5v5h-5zM420.1 219.1h5v5h-5zM418.9 220.2h5v5h-5zM416.7 222.1h5v5h-5zM417.7 221.1h5v5h-5zM419.7 219.3h5v5h-5zM418.2 220.7h5v5h-5zM418.8 220.1h5v5h-5zM418.4 220.7h5v5h-5zM418.4 220.4h5v5h-5zM642.6 30.2h5v5h-5zM643.4 30.1h5v5h-5zM639.2 34.0h5v5h-5zM559.4 102.5h5v5h-5zM554.5 106.0h5v5h-5zM555.5 105.6h5v5h-5zM553.2 107.8h5v5h-5zM556.7 105.1h5v5h-5zM558.3 102.3h5v5h-5zM555.7 105.9h5v5h-5zM559.9 101.7h5v5h-5zM556.6 105.3h5v5h-5zM558.3 103.2h5v5h-5zM517.4 135.1h5v5h-5zM517.5 135.6h5v5h-5zM517.2 135.5h5v5h-5zM519.2 133.4h5v5h-5zM519.8 133.2h5v5h-5zM516.9 135.6h5v5h-5zM431.2 209.4h5v5h-5zM431.5 209.2h5v5h-5zM430.3 210.4h5v5h-5zM431.5 209.3h5v5h-5zM429.1 211.3h5v5h-5zM432.4 208.6h5v5h-5zM435.0 206.0h5v5h-5zM431.0 209.6h5v5h-5zM432.5 208.4h5v5h-5zM431.0 209.6h5v5h-5zM431.0 209.7h5v5h-5zM531.9 126.2h5v5h-5zM528.0 129.5h5v5h-5zM531.0 126.7h5v5h-5zM530.2 127.7h5v5h-5zM530.9 126.8h5v5h-5zM491.1 159.3h5v5h-5zM487.9 162.4h5v5h-5zM489.4 160.8h5v5h-5zM488.6 161.7h5v5h-5zM487.7 162.8h5v5h-5zM486.9 162.8h5v5h-5zM485.7 164.4h5v5h-5zM488.0 162.0h5v5h-5zM489.9 160.6h5v5h-5zM540.8 117.8h5v5h-5zM541.7 116.3h5v5h-5zM538.3 119.8h5v5h-5zM537.7 119.6h5v5h-5zM537.2 120.6h5v5h-5zM536.1 121.2h5v5h-5zM535.9 122.1h5v5h-5zM538.8 119.0h5v5h-5zM539.5 118.8h5v5h-5zM536.3 120.8h5v5h-5zM655.5 21.4h5v5h-5zM654.6 22.0h5v5h-5zM653.8 21.5h5v5h-5zM650.7 23.9h5v5h-5zM651.5 26.0h5v5h-5zM649.1 27.5h5v5h-5zM649.6 28.3h5v5h-5zM650.6 26.0h5v5h-5zM650.4 27.3h5v5h-5zM651.2 26.8h5v5h-5zM648.5 27.3h5v5h-5zM651.3 24.5h5v5h-5zM648.6 27.5h5v5h-5zM559.2 95.1h5v5h-5zM560.8 93.8h5v5h-5zM558.2 96.5h5v5h-5zM560.3 94.8h5v5h-5zM562.1 92.9h5v5h-5zM558.1 95.8h5v5h-5zM559.4 94.7h5v5h-5zM559.7 94.1h5v5h-5zM658.3 18.4h5v5h-5zM663.9 14.3h5v5h-5zM658.8 17.9h5v5h-5zM661.7 16.2h5v5h-5zM539.4 119.4h5v5h-5zM540.7 117.3h5v5h-5zM538.9 118.7h5v5h-5zM541.4 117.2h5v5h-5zM539.3 119.0h5v5h-5zM540.7 116.9h5v5h-5zM540.2 117.6h5v5h-5zM537.9 120.3h5v5h-5zM535.3 122.3h5v5h-5zM434.3 207.3h5v5h-5zM432.5 208.8h5v5h-5zM434.2 207.6h5v5h-5zM435.2 206.4h5v5h-5zM434.2 207.5h5v5h-5zM431.9 209.3h5v5h-5zM435.2 206.4h5v5h-5zM435.7 206.1h5v5h-5zM434.1 207.3h5v5h-5zM434.2 207.3h5v5h-5zM435.3 206.4h5v5h-5zM433.0 208.4h5v5h-5zM436.3 205.6h5v5h-5zM420.7 218.5h5v5h-5zM418.5 220.6h5v5h-5zM418.6 220.4h5v5h-5zM418.6 220.5h5v5h-5zM418.1 221.0h5v5h-5zM420.6 218.6h5v5h-5zM416.9 221.9h5v5h-5zM420.7 218.8h5v5h-5zM525.0 130.7h5v5h-5zM526.6 129.0h5v5h-5zM527.1 128.8h5v5h-5zM523.2 131.7h5v5h-5zM528.1 127.5h5v5h-5zM527.0 128.5h5v5h-5zM451.3 193.0h5v5h-5zM449.5 194.5h5v5h-5zM453.1 191.2h5v5h-5zM452.9 191.3h5v5h-5zM449.1 194.7h5v5h-5zM451.7 192.4h5v5h-5zM453.0 191.4h5v5h-5zM458.0 187.3h5v5h-5zM456.7 188.3h5v5h-5zM458.3 186.8h5v5h-5zM457.5 187.7h5v5h-5zM458.0 187.2h5v5h-5zM458.8 186.3h5v5h-5zM460.7 185.1h5v5h-5zM515.4 139.1h5v5h-5zM514.2 140.0h5v5h-5zM517.1 137.5h5v5h-5zM514.6 139.8h5v5h-5zM514.1 140.1h5v5h-5zM510.4 142.6h5v5h-5zM518.2 136.8h5v5h-5zM592.3 74.6h5v5h-5zM590.7 76.5h5v5h-5zM590.9 75.7h5v5h-5zM593.8 73.8h5v5h-5zM589.0 76.8h5v5h-5zM464.7 180.6h5v5h-5zM462.5 182.7h5v5h-5zM466.5 179.0h5v5h-5zM466.6 179.0h5v5h-5zM465.7 179.8h5v5h-5zM465.6 179.7h5v5h-5zM464.3 180.9h5v5h-5zM463.5 181.4h5v5h-5zM423.0 217.5h5v5h-5zM420.6 219.4h5v5h-5zM425.1 215.8h5v5h-5zM422.4 218.1h5v5h-5zM422.4 218.1h5v5h-5zM422.6 217.7h5v5h-5zM423.2 217.4h5v5h-5zM423.7 217.1h5v5h-5zM424.3 216.4h5v5h-5zM420.6 219.5h5v5h-5zM424.1 215.5h5v5h-5zM425.5 214.3h5v5h-5zM424.9 215.0h5v5h-5zM423.8 215.9h5v5h-5zM424.4 215.3h5v5h-5zM426.7 213.4h5v5h-5zM424.1 215.6h5v5h-5zM431.9 208.8h5v5h-5zM431.5 208.9h5v5h-5zM433.4 207.5h5v5h-5zM430.0 210.4h5v5h-5zM435.0 206.2h5v5h-5zM434.5 206.6h5v5h-5zM432.4 208.5h5v5h-5zM433.3 207.4h5v5h-5zM434.1 206.8h5v5h-5zM431.2 209.3h5v5h-5zM431.0 209.6h5v5h-5zM452.7 192.1h5v5h-5zM451.5 193.1h5v5h-5zM451.4 192.9h5v5h-5zM448.3 195.8h5v5h-5zM451.5 193.2h5v5h-5zM451.0 193.2h5v5h-5zM452.3 192.4h5v5h-5zM452.9 191.8h5v5h-5zM449.7 194.6h5v5h-5zM451.7 192.9h5v5h-5zM452.3 192.3h5v5h-5zM451.8 192.8h5v5h-5zM451.2 193.4h5v5h-5zM452.6 192.1h5v5h-5zM570.0 93.3h5v5h-5zM566.7 95.2h5v5h-5zM568.7 94.6h5v5h-5zM566.6 95.5h5v5h-5zM568.6 94.7h5v5h-5zM567.2 96.5h5v5h-5zM568.2 93.7h5v5h-5zM564.8 97.5h5v5h-5zM514.7 138.6h5v5h-5zM516.0 137.8h5v5h-5zM516.6 136.7h5v5h-5zM515.5 137.7h5v5h-5zM516.5 136.6h5v5h-5zM516.6 137.0h5v5h-5zM516.2 136.7h5v5h-5zM602.4 65.0h5v5h-5zM601.7 65.7h5v5h-5zM600.2 67.2h5v5h-5zM602.0 65.2h5v5h-5zM605.4 61.9h5v5h-5zM603.5 64.0h5v5h-5zM521.5 132.2h5v5h-5zM522.3 131.7h5v5h-5zM520.4 133.3h5v5h-5zM520.3 133.3h5v5h-5zM519.4 134.5h5v5h-5zM521.0 132.6h5v5h-5zM522.1 131.9h5v5h-5zM522.5 130.9h5v5h-5zM521.3 132.7h5v5h-5zM522.1 131.6h5v5h-5zM523.6 130.5h5v5h-5zM519.3 134.3h5v5h-5zM522.8 131.3h5v5h-5zM521.9 132.0h5v5h-5zM513.8 139.5h5v5h-5zM517.4 136.6h5v5h-5zM517.3 136.5h5v5h-5zM516.9 136.8h5v5h-5zM576.3 84.1h5v5h-5zM578.5 82.6h5v5h-5zM579.0 82.8h5v5h-5zM558.8 101.3h5v5h-5zM561.5 99.3h5v5h-5zM558.5 102.2h5v5h-5zM562.1 98.7h5v5h-5zM561.6 99.5h5v5h-5zM561.5 99.5h5v5h-5zM597.2 69.4h5v5h-5zM600.0 66.7h5v5h-5zM597.7 69.1h5v5h-5zM597.6 69.3h5v5h-5zM595.2 72.0h5v5h-5zM597.5 70.3h5v5h-5zM599.9 66.4h5v5h-5zM569.8 94.6h5v5h-5zM567.1 94.9h5v5h-5zM567.7 94.0h5v5h-5zM570.0 92.9h5v5h-5zM574.2 89.1h5v5h-5zM569.3 93.9h5v5h-5zM568.8 95.1h5v5h-5zM664.3 12.8h5v5h-5zM657.9 17.3h5v5h-5zM661.3 14.0h5v5h-5zM660.5 14.4h5v5h-5zM662.4 13.4h5v5h-5zM620.5 52.0h5v5h-5zM616.8 54.5h5v5h-5zM619.8 51.4h5v5h-5zM619.2 53.1h5v5h-5zM591.8 75.5h5v5h-5zM592.8 75.0h5v5h-5zM594.5 72.4h5v5h-5zM590.7 76.2h5v5h-5zM591.4 75.5h5v5h-5zM592.5 74.6h5v5h-5zM602.7 64.9h5v5h-5zM605.2 61.9h5v5h-5zM602.6 64.5h5v5h-5zM600.5 66.6h5v5h-5zM578.0 82.4h5v5h-5zM579.1 81.9h5v5h-5zM578.1 83.1h5v5h-5zM581.4 79.8h5v5h-5zM580.3 79.6h5v5h-5zM575.3 85.8h5v5h-5zM549.3 108.5h5v5h-5zM549.1 109.0h5v5h-5zM547.8 109.4h5v5h-5zM548.0 108.7h5v5h-5zM546.4 110.6h5v5h-5zM548.1 108.8h5v5h-5zM548.6 108.6h5v5h-5zM547.4 109.6h5v5h-5zM611.9 54.6h5v5h-5zM612.8 53.8h5v5h-5zM612.3 54.0h5v5h-5zM610.6 56.2h5v5h-5zM614.4 51.9h5v5h-5zM470.9 176.7h5v5h-5zM471.5 176.8h5v5h-5zM473.1 175.0h5v5h-5zM472.9 175.2h5v5h-5zM472.7 175.5h5v5h-5zM580.5 82.5h5v5h-5zM581.1 81.9h5v5h-5zM516.7 139.6h5v5h-5zM515.7 140.5h5v5h-5zM518.8 137.6h5v5h-5zM514.7 140.6h5v5h-5zM516.0 139.4h5v5h-5zM517.7 136.5h5v5h-5zM515.0 138.8h5v5h-5zM513.8 139.8h5v5h-5zM514.8 139.4h5v5h-5zM516.8 137.7h5v5h-5zM516.5 137.6h5v5h-5zM513.0 140.8h5v5h-5zM558.0 101.9h5v5h-5zM553.3 105.8h5v5h-5zM554.5 104.9h5v5h-5zM557.4 101.4h5v5h-5zM553.5 104.6h5v5h-5zM552.4 106.3h5v5h-5zM432.9 208.6h5v5h-5zM435.6 206.4h5v5h-5zM435.7 206.4h5v5h-5zM431.9 209.7h5v5h-5zM433.6 207.9h5v5h-5zM436.9 205.3h5v5h-5zM433.4 208.3h5v5h-5zM434.3 207.3h5v5h-5zM433.8 208.1h5v5h-5zM433.9 208.0h5v5h-5zM437.1 205.1h5v5h-5zM434.9 207.0h5v5h-5zM431.6 209.8h5v5h-5zM435.5 206.5h5v5h-5zM435.3 206.7h5v5h-5zM487.9 161.8h5v5h-5zM491.0 159.1h5v5h-5zM491.0 159.1h5v5h-5zM486.5 162.7h5v5h-5zM489.0 160.6h5v5h-5zM490.3 159.5h5v5h-5zM524.9 128.0h5v5h-5zM523.6 129.1h5v5h-5zM525.2 127.8h5v5h-5zM527.8 125.5h5v5h-5zM523.5 129.5h5v5h-5zM517.3 136.2h5v5h-5zM517.3 135.5h5v5h-5zM520.5 132.8h5v5h-5zM517.8 135.0h5v5h-5zM609.4 60.0h5v5h-5zM613.6 55.4h5v5h-5zM611.3 57.9h5v5h-5zM610.5 58.9h5v5h-5zM612.4 56.8h5v5h-5zM574.7 88.9h5v5h-5zM574.0 88.5h5v5h-5zM574.7 87.2h5v5h-5zM572.9 89.6h5v5h-5zM572.6 90.6h5v5h-5zM572.3 89.5h5v5h-5zM510.5 143.2h5v5h-5zM507.0 146.1h5v5h-5zM508.0 144.7h5v5h-5zM510.5 142.6h5v5h-5zM508.9 144.1h5v5h-5zM506.4 146.5h5v5h-5zM509.7 143.6h5v5h-5zM506.9 145.9h5v5h-5zM432.7 208.4h5v5h-5zM430.1 210.4h5v5h-5zM433.6 207.5h5v5h-5zM433.0 208.1h5v5h-5zM433.5 207.7h5v5h-5zM435.0 206.2h5v5h-5zM431.7 209.2h5v5h-5zM434.0 207.1h5v5h-5zM435.8 205.8h5v5h-5zM431.9 208.9h5v5h-5zM432.8 208.3h5v5h-5zM573.4 89.2h5v5h-5zM573.1 89.7h5v5h-5zM572.1 90.1h5v5h-5zM575.2 88.7h5v5h-5zM571.6 90.9h5v5h-5zM573.3 89.6h5v5h-5zM571.0 91.8h5v5h-5zM571.4 92.0h5v5h-5zM472.2 175.3h5v5h-5zM473.8 173.8h5v5h-5zM472.9 174.4h5v5h-5zM473.2 174.4h5v5h-5zM475.8 171.9h5v5h-5zM474.9 173.1h5v5h-5zM471.3 175.9h5v5h-5zM473.4 174.0h5v5h-5zM598.9 66.9h5v5h-5zM596.8 68.8h5v5h-5zM597.6 67.9h5v5h-5zM597.1 68.0h5v5h-5zM428.4 212.4h5v5h-5zM425.8 214.4h5v5h-5zM426.6 213.7h5v5h-5zM424.8 215.4h5v5h-5zM429.5 211.2h5v5h-5zM431.0 210.2h5v5h-5zM427.6 212.9h5v5h-5zM429.3 211.4h5v5h-5zM428.7 212.1h5v5h-5zM428.5 212.1h5v5h-5zM428.8 211.9h5v5h-5zM429.4 211.4h5v5h-5zM426.4 214.0h5v5h-5zM426.8 213.5h5v5h-5zM436.5 205.8h5v5h-5zM437.4 204.9h5v5h-5zM438.7 204.0h5v5h-5zM433.9 207.9h5v5h-5zM436.6 205.7h5v5h-5zM438.7 204.0h5v5h-5zM437.7 204.6h5v5h-5zM439.9 202.9h5v5h-5zM438.5 204.0h5v5h-5zM438.8 203.9h5v5h-5zM436.1 206.0h5v5h-5zM436.5 205.8h5v5h-5zM550.6 108.3h5v5h-5zM550.0 108.3h5v5h-5zM550.3 107.9h5v5h-5zM550.2 107.7h5v5h-5zM552.4 106.5h5v5h-5zM552.0 106.1h5v5h-5zM552.2 106.2h5v5h-5zM551.5 105.9h5v5h-5zM552.9 105.5h5v5h-5zM551.6 107.1h5v5h-5zM554.2 105.1h5v5h-5zM553.6 106.0h5v5h-5zM647.9 24.3h5v5h-5zM644.2 27.4h5v5h-5zM649.8 23.2h5v5h-5zM649.8 22.9h5v5h-5zM521.0 133.4h5v5h-5zM521.2 133.5h5v5h-5zM521.2 132.9h5v5h-5zM520.8 133.9h5v5h-5zM523.5 131.6h5v5h-5zM523.3 131.5h5v5h-5zM518.7 135.6h5v5h-5zM520.6 134.0h5v5h-5zM520.5 133.8h5v5h-5zM521.5 132.7h5v5h-5zM520.6 133.9h5v5h-5zM551.2 108.7h5v5h-5zM553.7 106.9h5v5h-5zM553.3 107.8h5v5h-5zM552.3 107.9h5v5h-5zM550.6 109.7h5v5h-5zM552.9 108.7h5v5h-5zM552.8 108.2h5v5h-5zM552.3 108.8h5v5h-5zM550.3 110.5h5v5h-5zM540.5 117.5h5v5h-5zM543.1 115.3h5v5h-5zM545.3 112.6h5v5h-5zM544.7 113.6h5v5h-5zM542.1 115.6h5v5h-5zM540.2 117.8h5v5h-5zM542.6 115.4h5v5h-5zM542.2 116.0h5v5h-5zM543.3 114.1h5v5h-5zM542.9 115.1h5v5h-5zM543.6 114.0h5v5h-5zM461.9 183.2h5v5h-5zM460.4 184.4h5v5h-5zM459.4 185.5h5v5h-5zM457.6 186.9h5v5h-5zM458.8 185.9h5v5h-5zM458.6 186.3h5v5h-5zM456.1 188.1h5v5h-5zM458.6 186.1h5v5h-5zM459.1 185.1h5v5h-5zM457.6 186.8h5v5h-5zM458.5 186.2h5v5h-5zM457.4 186.9h5v5h-5zM457.7 187.0h5v5h-5zM461.4 183.7h5v5h-5zM418.8 220.0h5v5h-5zM418.6 220.1h5v5h-5zM417.1 221.5h5v5h-5zM419.0 219.9h5v5h-5zM546.9 110.1h5v5h-5zM551.0 107.3h5v5h-5zM547.2 109.7h5v5h-5zM543.9 113.5h5v5h-5zM599.5 69.1h5v5h-5zM599.2 68.7h5v5h-5zM595.2 72.0h5v5h-5zM598.5 69.0h5v5h-5zM598.4 70.3h5v5h-5zM594.3 72.3h5v5h-5zM587.6 79.8h5v5h-5zM588.7 78.9h5v5h-5zM589.3 78.5h5v5h-5zM613.4 55.5h5v5h-5zM609.6 58.7h5v5h-5zM611.8 56.0h5v5h-5zM609.3 59.4h5v5h-5zM613.3 56.1h5v5h-5zM611.8 57.4h5v5h-5zM613.4 56.4h5v5h-5zM610.5 58.6h5v5h-5zM613.3 55.6h5v5h-5zM608.4 58.7h5v5h-5zM641.7 34.8h5v5h-5zM640.5 36.5h5v5h-5zM547.6 112.8h5v5h-5zM543.9 116.2h5v5h-5zM544.9 115.3h5v5h-5zM545.0 116.2h5v5h-5zM546.1 115.2h5v5h-5zM546.5 113.5h5v5h-5zM547.9 113.6h5v5h-5zM543.1 118.2h5v5h-5zM510.4 143.7h5v5h-5zM507.1 145.9h5v5h-5zM506.6 146.6h5v5h-5zM509.3 143.9h5v5h-5zM507.7 146.2h5v5h-5zM511.3 142.9h5v5h-5zM505.1 148.4h5v5h-5zM508.8 144.5h5v5h-5zM509.7 144.1h5v5h-5zM507.6 145.9h5v5h-5zM464.4 181.2h5v5h-5zM459.6 185.3h5v5h-5zM465.3 180.3h5v5h-5zM461.5 183.5h5v5h-5zM461.5 183.6h5v5h-5zM462.0 183.3h5v5h-5zM464.1 181.2h5v5h-5zM462.9 182.4h5v5h-5zM461.7 183.5h5v5h-5zM462.8 182.3h5v5h-5zM462.8 182.8h5v5h-5zM464.2 181.6h5v5h-5zM460.9 183.8h5v5h-5zM663.7 12.2h5v5h-5zM660.8 16.4h5v5h-5zM664.6 12.4h5v5h-5zM544.9 114.4h5v5h-5zM541.8 116.3h5v5h-5zM545.9 112.6h5v5h-5zM541.9 116.5h5v5h-5zM543.0 116.0h5v5h-5zM546.9 112.3h5v5h-5zM542.6 116.4h5v5h-5zM543.9 114.6h5v5h-5zM545.6 112.8h5v5h-5zM543.4 114.8h5v5h-5zM490.0 158.5h5v5h-5zM486.8 161.2h5v5h-5zM489.5 159.5h5v5h-5zM488.0 160.3h5v5h-5zM489.7 159.4h5v5h-5zM615.8 50.6h5v5h-5zM617.3 51.4h5v5h-5zM618.5 51.1h5v5h-5zM617.4 50.0h5v5h-5zM619.1 48.6h5v5h-5zM615.9 51.9h5v5h-5zM617.0 51.1h5v5h-5zM617.6 51.7h5v5h-5zM501.3 149.2h5v5h-5zM503.3 147.6h5v5h-5zM502.4 148.5h5v5h-5zM498.9 150.8h5v5h-5zM501.8 149.0h5v5h-5zM501.7 148.4h5v5h-5zM500.8 149.9h5v5h-5zM485.7 163.5h5v5h-5zM487.7 162.1h5v5h-5zM482.8 165.9h5v5h-5zM487.6 161.5h5v5h-5zM487.2 161.9h5v5h-5zM489.6 160.0h5v5h-5zM486.4 163.0h5v5h-5zM487.1 162.5h5v5h-5zM487.8 161.5h5v5h-5zM486.4 162.6h5v5h-5zM486.0 163.1h5v5h-5zM487.8 162.1h5v5h-5zM487.0 162.1h5v5h-5zM489.3 160.1h5v5h-5zM471.7 175.5h5v5h-5zM472.3 175.0h5v5h-5zM471.8 176.0h5v5h-5zM469.5 177.5h5v5h-5zM473.2 174.4h5v5h-5zM469.0 178.1h5v5h-5zM471.9 175.5h5v5h-5zM520.2 135.1h5v5h-5zM523.2 132.0h5v5h-5zM523.4 132.2h5v5h-5zM521.8 133.4h5v5h-5zM522.1 133.3h5v5h-5zM524.4 131.3h5v5h-5zM524.3 131.6h5v5h-5zM667.3 10.7h5v5h-5zM663.3 14.6h5v5h-5zM664.9 12.8h5v5h-5zM663.3 13.3h5v5h-5zM649.1 23.9h5v5h-5zM647.1 25.7h5v5h-5zM650.0 22.9h5v5h-5zM648.9 24.2h5v5h-5zM536.8 118.4h5v5h-5zM533.6 121.2h5v5h-5zM535.0 120.0h5v5h-5zM535.4 119.3h5v5h-5zM534.5 120.0h5v5h-5zM534.4 120.2h5v5h-5zM534.0 120.7h5v5h-5zM534.7 120.7h5v5h-5zM533.4 121.1h5v5h-5zM536.7 118.4h5v5h-5zM473.0 174.3h5v5h-5zM472.6 174.5h5v5h-5zM473.4 173.7h5v5h-5zM473.0 174.3h5v5h-5zM472.7 174.6h5v5h-5zM474.7 172.7h5v5h-5zM472.2 174.8h5v5h-5zM472.2 174.9h5v5h-5zM462.5 180.9h5v5h-5zM460.8 182.6h5v5h-5zM456.6 185.9h5v5h-5zM459.1 183.9h5v5h-5zM460.6 182.4h5v5h-5zM463.3 180.1h5v5h-5zM461.0 182.4h5v5h-5zM461.3 181.8h5v5h-5zM507.3 146.0h5v5h-5zM507.2 146.1h5v5h-5zM507.8 145.8h5v5h-5zM508.1 145.3h5v5h-5zM508.2 145.4h5v5h-5zM505.7 147.4h5v5h-5zM428.4 211.4h5v5h-5zM429.9 210.2h5v5h-5zM429.4 210.6h5v5h-5zM426.7 213.2h5v5h-5zM425.1 214.6h5v5h-5zM423.1 216.2h5v5h-5zM427.2 212.6h5v5h-5zM427.4 212.4h5v5h-5zM425.6 213.9h5v5h-5zM428.2 211.8h5v5h-5zM427.6 212.4h5v5h-5zM430.5 209.9h5v5h-5zM468.7 177.7h5v5h-5zM468.7 177.4h5v5h-5zM468.4 177.9h5v5h-5zM468.4 177.6h5v5h-5zM470.1 176.8h5v5h-5zM469.9 176.5h5v5h-5zM470.6 176.3h5v5h-5zM468.5 177.8h5v5h-5zM468.3 178.0h5v5h-5zM468.1 178.2h5v5h-5zM469.7 176.2h5v5h-5zM468.9 177.4h5v5h-5zM474.5 172.6h5v5h-5zM634.0 39.1h5v5h-5zM638.1 35.5h5v5h-5zM636.1 36.4h5v5h-5zM638.8 36.1h5v5h-5zM590.1 73.2h5v5h-5zM592.4 71.8h5v5h-5zM592.9 70.5h5v5h-5zM588.6 73.8h5v5h-5zM589.7 73.5h5v5h-5zM590.6 73.3h5v5h-5zM590.0 73.1h5v5h-5zM577.0 85.1h5v5h-5zM574.1 86.7h5v5h-5zM573.2 88.5h5v5h-5zM575.6 86.0h5v5h-5zM576.1 85.5h5v5h-5zM574.2 87.1h5v5h-5zM577.4 86.4h5v5h-5zM576.3 86.4h5v5h-5zM653.0 21.7h5v5h-5zM653.5 22.7h5v5h-5zM654.6 20.9h5v5h-5zM653.3 22.5h5v5h-5zM653.1 21.3h5v5h-5zM652.7 22.4h5v5h-5zM608.9 59.4h5v5h-5zM608.4 59.1h5v5h-5zM608.4 59.9h5v5h-5zM605.7 61.2h5v5h-5zM609.0 59.3h5v5h-5zM609.7 57.9h5v5h-5zM577.7 85.1h5v5h-5zM577.8 85.0h5v5h-5zM576.5 87.8h5v5h-5zM575.8 85.7h5v5h-5zM576.4 86.5h5v5h-5zM575.6 86.9h5v5h-5zM576.1 87.0h5v5h-5zM579.5 85.3h5v5h-5zM580.5 84.0h5v5h-5zM579.5 84.0h5v5h-5zM580.7 83.7h5v5h-5zM582.1 81.6h5v5h-5zM579.4 83.8h5v5h-5zM579.7 84.2h5v5h-5zM648.0 24.6h5v5h-5zM649.3 23.1h5v5h-5zM649.0 25.2h5v5h-5zM647.9 25.1h5v5h-5zM647.2 26.1h5v5h-5zM647.4 26.6h5v5h-5zM555.1 105.3h5v5h-5zM553.9 106.5h5v5h-5zM555.1 105.1h5v5h-5zM553.0 108.0h5v5h-5zM555.1 105.6h5v5h-5zM554.3 105.2h5v5h-5zM552.1 108.6h5v5h-5zM554.8 105.6h5v5h-5zM566.4 94.3h5v5h-5zM571.8 89.4h5v5h-5zM565.9 94.2h5v5h-5zM570.8 89.5h5v5h-5zM667.8 11.9h5v5h-5zM666.3 12.1h5v5h-5zM577.0 84.8h5v5h-5zM575.3 86.2h5v5h-5zM579.1 83.4h5v5h-5zM574.4 87.2h5v5h-5zM576.9 84.1h5v5h-5zM578.9 82.9h5v5h-5zM576.8 84.7h5v5h-5zM576.7 84.5h5v5h-5zM446.8 197.1h5v5h-5zM447.5 196.5h5v5h-5zM445.9 198.3h5v5h-5zM444.7 199.1h5v5h-5zM447.5 196.3h5v5h-5zM446.7 197.4h5v5h-5zM450.3 194.4h5v5h-5zM445.7 198.2h5v5h-5zM447.5 196.5h5v5h-5zM449.2 195.4h5v5h-5zM628.8 43.7h5v5h-5zM626.4 48.2h5v5h-5zM629.5 44.9h5v5h-5zM630.1 42.2h5v5h-5zM626.0 46.3h5v5h-5zM628.4 45.4h5v5h-5zM627.8 44.4h5v5h-5zM631.4 42.4h5v5h-5zM495.5 154.1h5v5h-5zM495.2 154.4h5v5h-5zM496.9 152.9h5v5h-5zM498.6 152.0h5v5h-5zM498.1 152.2h5v5h-5zM498.0 152.4h5v5h-5zM499.5 150.9h5v5h-5zM498.1 152.6h5v5h-5zM498.1 152.2h5v5h-5zM587.2 80.3h5v5h-5zM590.0 77.3h5v5h-5zM592.7 76.5h5v5h-5zM586.5 81.0h5v5h-5zM589.1 79.2h5v5h-5zM589.8 77.8h5v5h-5zM591.2 77.0h5v5h-5zM590.0 75.3h5v5h-5zM589.4 77.3h5v5h-5zM591.1 77.8h5v5h-5zM483.0 166.5h5v5h-5zM486.0 164.1h5v5h-5zM482.4 167.7h5v5h-5zM484.7 164.9h5v5h-5zM484.2 165.7h5v5h-5zM485.8 164.3h5v5h-5zM487.4 162.7h5v5h-5zM481.4 168.0h5v5h-5zM644.7 28.3h5v5h-5zM646.3 27.3h5v5h-5zM646.6 26.0h5v5h-5zM590.2 72.1h5v5h-5zM592.3 70.7h5v5h-5zM591.3 72.1h5v5h-5zM592.8 70.7h5v5h-5zM593.1 70.4h5v5h-5zM588.6 73.6h5v5h-5zM591.1 72.1h5v5h-5zM594.7 69.5h5v5h-5zM598.5 67.9h5v5h-5zM601.1 65.5h5v5h-5zM598.4 68.3h5v5h-5zM599.4 66.9h5v5h-5zM601.5 65.1h5v5h-5zM599.7 65.7h5v5h-5zM472.1 175.3h5v5h-5zM472.1 175.5h5v5h-5zM474.6 173.5h5v5h-5zM476.0 172.5h5v5h-5zM470.3 177.0h5v5h-5zM472.7 175.1h5v5h-5zM476.9 171.3h5v5h-5zM475.0 173.0h5v5h-5zM472.5 174.7h5v5h-5zM474.4 173.5h5v5h-5zM473.6 174.2h5v5h-5zM475.9 172.6h5v5h-5zM458.6 186.0h5v5h-5zM458.3 186.2h5v5h-5zM456.4 188.2h5v5h-5zM459.9 185.1h5v5h-5zM455.8 188.4h5v5h-5zM457.6 186.7h5v5h-5zM456.9 187.4h5v5h-5zM462.4 182.9h5v5h-5zM458.1 186.3h5v5h-5zM459.8 185.1h5v5h-5zM459.5 185.7h5v5h-5zM458.2 186.3h5v5h-5zM588.4 78.2h5v5h-5zM590.7 76.6h5v5h-5zM589.1 77.1h5v5h-5zM590.8 72.6h5v5h-5zM590.8 71.4h5v5h-5zM588.9 75.8h5v5h-5zM587.9 74.8h5v5h-5zM588.8 74.3h5v5h-5zM588.7 73.4h5v5h-5zM521.0 132.9h5v5h-5zM520.2 134.1h5v5h-5zM520.6 132.7h5v5h-5zM519.3 134.3h5v5h-5zM521.6 132.0h5v5h-5zM518.8 135.0h5v5h-5zM520.1 134.5h5v5h-5zM519.5 134.1h5v5h-5zM473.6 173.8h5v5h-5zM473.3 173.8h5v5h-5zM473.2 173.6h5v5h-5zM474.3 173.1h5v5h-5zM473.5 173.7h5v5h-5zM472.2 174.8h5v5h-5zM474.2 173.2h5v5h-5zM476.6 171.1h5v5h-5zM426.4 213.9h5v5h-5zM426.0 214.2h5v5h-5zM425.0 215.0h5v5h-5zM425.6 214.3h5v5h-5zM427.0 213.4h5v5h-5zM426.0 214.2h5v5h-5zM426.1 214.2h5v5h-5zM428.6 212.0h5v5h-5zM426.6 213.8h5v5h-5zM425.5 214.5h5v5h-5zM656.4 17.8h5v5h-5zM654.3 18.2h5v5h-5zM654.7 19.0h5v5h-5zM482.1 165.6h5v5h-5zM481.4 166.4h5v5h-5zM479.7 168.3h5v5h-5zM483.8 164.3h5v5h-5zM480.7 166.7h5v5h-5zM481.3 166.2h5v5h-5zM475.9 170.9h5v5h-5zM481.1 166.7h5v5h-5zM479.7 167.8h5v5h-5zM479.3 167.8h5v5h-5zM537.6 118.7h5v5h-5zM537.5 118.4h5v5h-5zM538.5 117.0h5v5h-5zM535.2 120.9h5v5h-5zM431.1 209.7h5v5h-5zM429.9 210.7h5v5h-5zM432.2 208.5h5v5h-5zM428.6 211.7h5v5h-5zM427.6 212.7h5v5h-5zM430.0 210.5h5v5h-5zM660.9 13.8h5v5h-5zM660.8 14.5h5v5h-5zM657.2 18.2h5v5h-5zM662.8 12.9h5v5h-5zM661.5 14.3h5v5h-5zM663.6 12.7h5v5h-5zM662.3 14.1h5v5h-5zM573.2 88.9h5v5h-5zM569.6 91.6h5v5h-5zM571.7 89.6h5v5h-5zM571.3 90.8h5v5h-5zM571.2 89.7h5v5h-5zM571.0 91.0h5v5h-5zM571.0 90.9h5v5h-5zM570.6 90.7h5v5h-5zM573.2 87.7h5v5h-5zM493.3 156.6h5v5h-5zM486.8 162.0h5v5h-5zM492.4 157.5h5v5h-5zM492.1 157.8h5v5h-5zM492.2 158.3h5v5h-5zM488.3 161.1h5v5h-5zM490.6 158.9h5v5h-5zM643.8 31.5h5v5h-5zM642.1 33.6h5v5h-5zM643.7 31.2h5v5h-5zM652.4 27.8h5v5h-5zM654.0 25.3h5v5h-5zM423.8 216.7h5v5h-5zM422.4 217.9h5v5h-5zM426.1 214.7h5v5h-5zM424.0 216.5h5v5h-5zM423.6 216.6h5v5h-5zM421.9 218.1h5v5h-5zM423.7 216.8h5v5h-5zM421.4 218.7h5v5h-5zM425.6 215.1h5v5h-5zM424.1 216.4h5v5h-5zM422.9 217.4h5v5h-5zM424.2 216.3h5v5h-5zM425.2 215.5h5v5h-5zM452.2 192.2h5v5h-5zM454.0 190.9h5v5h-5zM451.7 192.4h5v5h-5zM454.1 190.7h5v5h-5zM452.7 191.7h5v5h-5zM453.5 191.2h5v5h-5zM454.6 190.3h5v5h-5zM452.4 192.2h5v5h-5zM452.1 192.4h5v5h-5zM452.1 192.3h5v5h-5zM451.3 193.1h5v5h-5zM452.7 192.2h5v5h-5zM452.7 191.8h5v5h-5zM600.7 65.8h5v5h-5zM597.4 68.7h5v5h-5zM599.0 67.3h5v5h-5zM596.6 69.1h5v5h-5zM598.4 66.6h5v5h-5zM599.1 66.1h5v5h-5zM420.7 218.4h5v5h-5zM419.8 219.2h5v5h-5zM419.1 219.5h5v5h-5zM418.7 219.9h5v5h-5zM418.7 220.0h5v5h-5zM421.8 217.3h5v5h-5zM420.9 218.2h5v5h-5zM418.4 220.2h5v5h-5zM420.0 218.8h5v5h-5zM420.6 218.4h5v5h-5zM420.9 218.0h5v5h-5zM427.8 212.5h5v5h-5zM427.5 212.4h5v5h-5zM426.1 214.1h5v5h-5zM424.8 214.8h5v5h-5zM425.6 214.1h5v5h-5zM428.9 211.3h5v5h-5zM502.7 150.2h5v5h-5zM502.1 150.3h5v5h-5zM499.4 153.2h5v5h-5zM498.7 153.5h5v5h-5zM499.7 152.8h5v5h-5zM500.0 152.7h5v5h-5zM500.5 152.2h5v5h-5zM501.3 151.4h5v5h-5zM498.3 153.6h5v5h-5zM501.3 151.4h5v5h-5zM502.9 149.8h5v5h-5zM560.4 102.2h5v5h-5zM563.2 99.5h5v5h-5zM561.5 101.5h5v5h-5zM563.2 100.1h5v5h-5zM562.6 100.1h5v5h-5zM561.7 100.8h5v5h-5zM563.4 99.4h5v5h-5zM561.1 102.0h5v5h-5zM615.1 54.6h5v5h-5zM615.9 54.1h5v5h-5zM613.9 56.6h5v5h-5zM617.1 53.6h5v5h-5zM616.4 53.4h5v5h-5zM613.9 56.1h5v5h-5zM613.8 56.5h5v5h-5zM613.7 56.8h5v5h-5zM510.5 142.3h5v5h-5zM509.6 143.1h5v5h-5zM510.7 142.6h5v5h-5zM506.3 146.2h5v5h-5zM506.5 146.2h5v5h-5zM509.7 143.2h5v5h-5zM421.1 218.6h5v5h-5zM422.1 217.6h5v5h-5zM420.2 219.2h5v5h-5zM420.5 219.0h5v5h-5zM423.3 216.5h5v5h-5zM421.6 218.1h5v5h-5zM421.6 218.2h5v5h-5zM424.3 215.7h5v5h-5zM423.6 216.4h5v5h-5zM421.9 217.9h5v5h-5zM420.9 218.6h5v5h-5zM420.1 219.4h5v5h-5zM422.9 216.9h5v5h-5zM649.5 26.9h5v5h-5zM648.2 28.4h5v5h-5zM650.8 26.3h5v5h-5zM651.1 26.1h5v5h-5zM650.2 26.7h5v5h-5zM461.1 183.5h5v5h-5zM458.4 185.8h5v5h-5zM457.9 186.4h5v5h-5zM457.7 186.8h5v5h-5zM459.3 185.1h5v5h-5zM456.1 187.8h5v5h-5zM457.2 186.7h5v5h-5zM461.4 183.3h5v5h-5zM459.6 185.2h5v5h-5zM424.2 215.9h5v5h-5zM423.8 216.3h5v5h-5zM425.2 215.1h5v5h-5zM423.9 216.1h5v5h-5zM429.3 211.4h5v5h-5zM422.7 217.2h5v5h-5zM425.3 214.9h5v5h-5zM423.3 216.6h5v5h-5zM423.5 216.6h5v5h-5zM424.2 215.9h5v5h-5zM479.2 169.0h5v5h-5zM478.5 169.5h5v5h-5zM478.8 169.3h5v5h-5zM479.7 168.1h5v5h-5zM478.2 169.6h5v5h-5zM477.6 169.8h5v5h-5zM478.6 169.4h5v5h-5zM481.6 166.8h5v5h-5zM476.6 170.7h5v5h-5zM558.6 102.7h5v5h-5zM563.3 98.6h5v5h-5zM563.0 98.4h5v5h-5zM563.6 97.3h5v5h-5zM560.2 100.8h5v5h-5zM442.8 199.6h5v5h-5zM443.2 199.4h5v5h-5zM444.1 198.4h5v5h-5zM444.4 198.1h5v5h-5zM442.5 199.8h5v5h-5zM445.6 197.1h5v5h-5zM443.2 199.4h5v5h-5zM440.5 201.4h5v5h-5zM446.2 196.7h5v5h-5zM629.6 39.0h5v5h-5zM630.1 37.5h5v5h-5zM631.8 36.2h5v5h-5zM630.8 37.2h5v5h-5zM547.4 111.6h5v5h-5zM548.9 109.8h5v5h-5zM547.4 112.0h5v5h-5zM550.6 108.4h5v5h-5zM547.8 111.3h5v5h-5zM549.5 109.4h5v5h-5zM548.6 110.5h5v5h-5zM546.3 111.9h5v5h-5zM550.4 110.0h5v5h-5zM550.2 108.8h5v5h-5zM546.9 112.5h5v5h-5zM475.3 172.7h5v5h-5zM477.8 170.1h5v5h-5zM474.1 173.7h5v5h-5zM476.6 171.2h5v5h-5zM473.1 174.4h5v5h-5zM474.4 173.5h5v5h-5zM476.4 171.7h5v5h-5zM473.5 174.2h5v5h-5zM476.4 171.6h5v5h-5zM471.1 176.2h5v5h-5zM584.0 79.1h5v5h-5zM589.0 74.6h5v5h-5zM584.3 78.2h5v5h-5zM588.8 73.7h5v5h-5zM587.8 74.1h5v5h-5zM586.8 77.2h5v5h-5zM586.5 76.3h5v5h-5zM531.9 124.4h5v5h-5zM529.2 127.5h5v5h-5zM531.3 125.1h5v5h-5zM531.6 124.6h5v5h-5zM532.7 123.8h5v5h-5zM532.2 124.1h5v5h-5zM531.6 125.1h5v5h-5zM631.3 43.5h5v5h-5zM632.2 40.0h5v5h-5zM632.7 43.0h5v5h-5zM636.2 37.1h5v5h-5zM634.7 40.0h5v5h-5zM631.9 43.0h5v5h-5zM454.8 189.6h5v5h-5zM456.2 188.3h5v5h-5zM454.2 190.2h5v5h-5zM457.5 187.2h5v5h-5zM453.7 190.4h5v5h-5zM454.0 190.2h5v5h-5zM425.7 214.4h5v5h-5zM424.5 215.6h5v5h-5zM424.9 215.2h5v5h-5zM427.6 213.0h5v5h-5zM423.3 216.5h5v5h-5zM424.5 215.6h5v5h-5zM422.4 217.3h5v5h-5zM425.2 214.9h5v5h-5zM590.0 76.8h5v5h-5zM590.1 77.2h5v5h-5zM589.5 76.8h5v5h-5zM589.8 77.1h5v5h-5zM590.8 75.4h5v5h-5zM587.9 78.0h5v5h-5zM496.2 156.0h5v5h-5zM495.9 155.8h5v5h-5zM494.5 157.3h5v5h-5zM496.8 155.2h5v5h-5zM493.8 157.4h5v5h-5zM494.3 157.0h5v5h-5zM495.0 156.3h5v5h-5zM495.1 156.5h5v5h-5zM493.3 158.0h5v5h-5zM611.9 54.0h5v5h-5zM612.2 54.4h5v5h-5zM610.8 54.5h5v5h-5zM614.3 51.8h5v5h-5zM454.8 189.9h5v5h-5zM453.8 190.8h5v5h-5zM450.9 193.3h5v5h-5zM453.3 191.2h5v5h-5zM452.4 191.9h5v5h-5zM527.0 129.4h5v5h-5zM525.0 131.4h5v5h-5zM524.4 131.8h5v5h-5zM525.7 130.4h5v5h-5zM528.5 128.7h5v5h-5zM526.8 129.9h5v5h-5zM577.0 84.9h5v5h-5zM573.5 86.9h5v5h-5zM572.3 87.1h5v5h-5zM569.0 91.2h5v5h-5zM574.3 86.4h5v5h-5zM573.3 87.5h5v5h-5zM573.4 87.4h5v5h-5zM553.0 105.0h5v5h-5zM558.0 100.8h5v5h-5zM555.0 103.1h5v5h-5zM551.6 106.3h5v5h-5zM554.5 103.8h5v5h-5zM555.7 102.5h5v5h-5zM555.5 102.6h5v5h-5zM553.5 104.9h5v5h-5zM663.2 10.8h5v5h-5zM665.7 9.5h5v5h-5zM663.2 11.5h5v5h-5zM664.3 11.1h5v5h-5zM665.0 10.5h5v5h-5zM662.3 12.4h5v5h-5zM663.9 10.9h5v5h-5zM595.9 76.7h5v5h-5zM597.3 74.5h5v5h-5zM594.9 78.0h5v5h-5zM596.7 75.9h5v5h-5zM597.7 74.3h5v5h-5zM599.9 73.0h5v5h-5zM596.5 75.8h5v5h-5zM596.5 75.5h5v5h-5zM544.5 112.8h5v5h-5zM545.9 111.3h5v5h-5zM547.7 110.4h5v5h-5zM546.7 110.3h5v5h-5zM543.7 113.4h5v5h-5zM546.7 111.0h5v5h-5zM644.0 32.4h5v5h-5zM643.0 32.5h5v5h-5zM643.0 33.2h5v5h-5zM646.1 30.1h5v5h-5zM642.7 33.6h5v5h-5zM647.5 29.6h5v5h-5zM438.7 203.3h5v5h-5zM437.8 204.2h5v5h-5zM439.6 202.5h5v5h-5zM437.9 204.0h5v5h-5zM436.5 205.2h5v5h-5zM436.9 205.0h5v5h-5zM438.6 203.4h5v5h-5zM437.1 204.7h5v5h-5zM440.8 201.4h5v5h-5zM463.2 182.7h5v5h-5zM464.0 182.0h5v5h-5zM459.4 185.9h5v5h-5zM458.9 186.4h5v5h-5zM459.5 185.7h5v5h-5zM459.1 186.2h5v5h-5zM459.7 185.8h5v5h-5zM457.6 187.5h5v5h-5zM460.8 184.7h5v5h-5zM457.2 187.6h5v5h-5zM461.9 183.8h5v5h-5zM460.3 184.8h5v5h-5zM460.5 185.2h5v5h-5zM618.2 49.9h5v5h-5zM619.8 46.7h5v5h-5zM617.2 51.1h5v5h-5zM622.1 45.6h5v5h-5zM616.5 50.8h5v5h-5zM618.4 49.4h5v5h-5zM490.4 159.2h5v5h-5zM489.1 160.5h5v5h-5zM491.2 158.2h5v5h-5zM488.1 161.3h5v5h-5zM489.2 160.5h5v5h-5zM488.7 160.5h5v5h-5zM487.2 161.6h5v5h-5zM486.8 162.5h5v5h-5zM485.8 163.0h5v5h-5zM626.1 47.5h5v5h-5zM624.9 49.0h5v5h-5zM626.8 48.2h5v5h-5zM628.2 45.0h5v5h-5zM624.1 49.4h5v5h-5zM633.7 43.4h5v5h-5zM629.6 47.8h5v5h-5zM631.9 46.1h5v5h-5zM630.5 45.9h5v5h-5zM633.0 44.6h5v5h-5zM633.1 44.7h5v5h-5zM633.0 44.4h5v5h-5zM604.5 63.2h5v5h-5zM601.8 64.2h5v5h-5zM603.5 62.3h5v5h-5zM604.5 61.9h5v5h-5zM605.4 61.3h5v5h-5zM603.8 62.7h5v5h-5zM610.9 58.0h5v5h-5zM609.6 59.5h5v5h-5zM608.9 60.0h5v5h-5zM609.0 60.4h5v5h-5zM608.3 60.3h5v5h-5zM611.0 57.9h5v5h-5zM519.8 134.7h5v5h-5zM521.0 133.5h5v5h-5zM518.5 136.0h5v5h-5zM514.9 139.8h5v5h-5zM518.2 135.8h5v5h-5zM656.1 19.1h5v5h-5zM653.5 20.2h5v5h-5zM654.6 18.4h5v5h-5zM657.4 17.0h5v5h-5zM654.5 19.9h5v5h-5zM495.4 154.9h5v5h-5zM496.0 154.5h5v5h-5zM494.7 155.7h5v5h-5zM495.5 155.4h5v5h-5zM496.7 154.4h5v5h-5zM495.4 155.3h5v5h-5zM496.6 154.3h5v5h-5zM495.4 155.3h5v5h-5zM494.4 155.9h5v5h-5zM496.0 154.5h5v5h-5zM494.8 156.1h5v5h-5zM427.5 212.9h5v5h-5zM425.3 215.0h5v5h-5zM427.5 213.1h5v5h-5zM424.7 215.4h5v5h-5zM426.1 214.2h5v5h-5zM427.7 212.9h5v5h-5zM469.2 177.7h5v5h-5zM471.0 176.3h5v5h-5zM467.4 179.0h5v5h-5zM470.2 177.0h5v5h-5zM467.1 179.4h5v5h-5zM469.5 177.9h5v5h-5zM418.5 220.9h5v5h-5zM418.3 220.9h5v5h-5zM418.1 221.2h5v5h-5zM418.1 221.2h5v5h-5zM417.1 221.9h5v5h-5zM418.4 220.7h5v5h-5zM418.9 220.5h5v5h-5zM419.6 219.9h5v5h-5zM418.7 220.7h5v5h-5zM470.0 177.8h5v5h-5zM469.4 178.3h5v5h-5zM473.6 174.7h5v5h-5zM474.2 174.3h5v5h-5zM468.7 178.9h5v5h-5zM622.5 45.1h5v5h-5zM624.6 43.4h5v5h-5zM620.6 47.9h5v5h-5zM622.2 46.9h5v5h-5zM628.4 40.6h5v5h-5zM627.1 42.2h5v5h-5zM623.6 44.7h5v5h-5zM625.2 41.5h5v5h-5zM625.5 43.3h5v5h-5zM535.5 121.9h5v5h-5zM535.6 121.9h5v5h-5zM532.5 124.9h5v5h-5zM533.4 124.6h5v5h-5zM536.2 122.0h5v5h-5zM536.1 121.8h5v5h-5zM537.6 121.1h5v5h-5zM535.7 123.2h5v5h-5zM589.6 75.4h5v5h-5zM587.7 77.5h5v5h-5zM588.1 77.3h5v5h-5zM587.0 77.7h5v5h-5zM592.0 74.6h5v5h-5zM588.1 77.4h5v5h-5zM593.0 73.2h5v5h-5zM590.1 76.2h5v5h-5zM588.9 77.4h5v5h-5zM588.5 78.5h5v5h-5zM625.9 44.2h5v5h-5zM628.8 39.3h5v5h-5zM627.7 41.6h5v5h-5zM602.1 61.6h5v5h-5zM604.7 59.3h5v5h-5zM603.5 60.6h5v5h-5zM605.6 57.3h5v5h-5zM602.4 61.1h5v5h-5zM584.5 81.8h5v5h-5zM584.3 81.7h5v5h-5zM584.6 82.8h5v5h-5zM585.3 82.0h5v5h-5zM584.8 82.0h5v5h-5zM586.5 79.5h5v5h-5zM583.2 83.2h5v5h-5zM584.6 81.4h5v5h-5zM582.7 84.3h5v5h-5zM462.2 184.1h5v5h-5zM465.3 181.6h5v5h-5zM463.0 183.7h5v5h-5zM462.8 183.5h5v5h-5zM463.7 182.7h5v5h-5zM464.4 182.5h5v5h-5zM460.7 185.8h5v5h-5zM464.8 182.0h5v5h-5zM461.6 184.4h5v5h-5zM465.3 181.5h5v5h-5zM464.9 181.9h5v5h-5zM465.5 181.3h5v5h-5zM577.3 86.6h5v5h-5zM577.0 87.6h5v5h-5zM577.8 87.4h5v5h-5zM574.2 91.9h5v5h-5zM573.8 90.3h5v5h-5zM424.6 215.6h5v5h-5zM430.5 210.5h5v5h-5zM430.6 210.6h5v5h-5zM424.9 215.2h5v5h-5zM425.9 214.3h5v5h-5zM427.3 213.2h5v5h-5zM429.7 211.1h5v5h-5zM428.1 212.6h5v5h-5zM426.4 214.1h5v5h-5zM427.9 212.6h5v5h-5zM427.2 213.1h5v5h-5zM425.0 215.2h5v5h-5zM638.5 32.2h5v5h-5zM640.1 31.6h5v5h-5zM641.2 30.5h5v5h-5zM640.3 32.2h5v5h-5zM598.0 69.3h5v5h-5zM600.0 67.9h5v5h-5zM600.7 66.4h5v5h-5zM599.9 67.4h5v5h-5zM599.4 67.2h5v5h-5zM598.5 68.4h5v5h-5zM537.8 120.1h5v5h-5zM541.2 117.6h5v5h-5zM541.7 117.6h5v5h-5zM539.3 119.2h5v5h-5zM538.0 120.6h5v5h-5zM540.0 118.4h5v5h-5zM540.0 118.4h5v5h-5zM538.1 120.3h5v5h-5zM445.6 197.5h5v5h-5zM446.2 196.9h5v5h-5zM443.3 199.7h5v5h-5zM444.8 198.3h5v5h-5zM442.3 200.4h5v5h-5zM568.8 91.9h5v5h-5zM570.2 92.1h5v5h-5zM569.0 92.6h5v5h-5zM569.0 93.6h5v5h-5zM567.5 93.0h5v5h-5zM566.8 95.0h5v5h-5zM570.9 91.6h5v5h-5zM567.3 94.2h5v5h-5zM572.7 90.0h5v5h-5zM557.9 104.0h5v5h-5zM559.4 102.1h5v5h-5zM556.1 105.4h5v5h-5zM557.6 103.8h5v5h-5zM557.0 104.1h5v5h-5zM505.7 143.5h5v5h-5zM508.7 140.3h5v5h-5zM507.6 141.1h5v5h-5zM505.9 142.6h5v5h-5zM507.6 141.0h5v5h-5zM507.0 141.4h5v5h-5zM504.5 143.6h5v5h-5zM505.9 142.2h5v5h-5zM507.1 141.4h5v5h-5zM440.3 201.9h5v5h-5zM440.6 201.6h5v5h-5zM443.0 199.7h5v5h-5zM442.1 200.3h5v5h-5zM444.4 198.4h5v5h-5zM440.2 202.0h5v5h-5zM439.8 202.4h5v5h-5zM441.0 201.4h5v5h-5zM442.9 199.5h5v5h-5zM438.5 203.5h5v5h-5zM441.0 201.1h5v5h-5zM439.1 203.0h5v5h-5zM452.0 191.4h5v5h-5zM453.5 190.2h5v5h-5zM453.3 190.6h5v5h-5zM452.5 191.4h5v5h-5zM452.7 191.1h5v5h-5zM455.5 188.8h5v5h-5zM451.2 192.5h5v5h-5zM451.1 192.3h5v5h-5zM449.5 193.5h5v5h-5zM453.4 190.7h5v5h-5zM452.1 191.6h5v5h-5zM453.3 190.8h5v5h-5zM454.3 189.9h5v5h-5zM448.8 194.1h5v5h-5zM454.9 189.4h5v5h-5zM488.7 160.6h5v5h-5zM488.6 160.8h5v5h-5zM494.2 155.7h5v5h-5zM490.8 158.5h5v5h-5zM492.0 157.9h5v5h-5zM489.0 160.1h5v5h-5zM488.9 160.6h5v5h-5zM536.9 119.2h5v5h-5zM537.1 119.0h5v5h-5zM537.6 118.4h5v5h-5zM539.2 117.0h5v5h-5zM536.6 119.7h5v5h-5zM537.6 117.8h5v5h-5zM538.4 117.6h5v5h-5zM526.2 129.2h5v5h-5zM525.1 130.0h5v5h-5zM524.6 130.0h5v5h-5zM525.2 129.5h5v5h-5zM527.8 127.6h5v5h-5zM525.2 129.9h5v5h-5zM525.3 129.8h5v5h-5zM515.0 138.7h5v5h-5zM513.5 140.5h5v5h-5zM512.7 140.8h5v5h-5zM515.0 139.0h5v5h-5zM513.5 140.7h5v5h-5zM514.9 139.3h5v5h-5zM515.6 138.7h5v5h-5zM513.3 140.9h5v5h-5zM514.1 140.1h5v5h-5zM463.1 182.1h5v5h-5zM459.6 185.2h5v5h-5zM458.4 186.2h5v5h-5zM462.0 182.8h5v5h-5zM461.5 183.4h5v5h-5zM463.0 182.3h5v5h-5zM460.0 185.0h5v5h-5zM458.0 186.6h5v5h-5zM461.6 183.1h5v5h-5zM639.5 37.2h5v5h-5zM639.2 36.6h5v5h-5zM642.6 34.2h5v5h-5zM642.2 34.3h5v5h-5zM568.3 93.6h5v5h-5zM564.0 96.7h5v5h-5zM566.0 95.7h5v5h-5zM567.4 93.9h5v5h-5zM567.3 93.9h5v5h-5zM567.2 94.8h5v5h-5zM565.7 96.2h5v5h-5zM565.2 97.1h5v5h-5zM566.6 95.1h5v5h-5zM543.3 114.5h5v5h-5zM540.5 116.8h5v5h-5zM537.5 119.3h5v5h-5zM537.7 119.0h5v5h-5zM533.9 119.5h5v5h-5zM533.1 120.6h5v5h-5zM530.8 121.6h5v5h-5zM528.0 124.6h5v5h-5zM529.1 123.9h5v5h-5zM515.7 137.2h5v5h-5zM512.8 139.8h5v5h-5zM515.5 137.2h5v5h-5zM512.8 139.8h5v5h-5zM515.4 137.2h5v5h-5zM513.3 139.0h5v5h-5zM515.5 137.1h5v5h-5zM514.3 138.0h5v5h-5zM517.1 135.9h5v5h-5zM514.2 138.4h5v5h-5zM513.2 139.0h5v5h-5zM457.6 186.9h5v5h-5zM459.8 185.4h5v5h-5zM458.3 186.3h5v5h-5zM458.0 186.6h5v5h-5zM457.5 187.1h5v5h-5zM459.2 185.9h5v5h-5zM459.2 185.6h5v5h-5zM457.3 187.1h5v5h-5zM459.5 185.6h5v5h-5zM458.8 186.0h5v5h-5zM460.4 184.6h5v5h-5zM459.7 185.1h5v5h-5zM535.7 121.7h5v5h-5zM534.7 122.7h5v5h-5zM534.3 122.8h5v5h-5zM535.0 122.7h5v5h-5zM538.6 119.4h5v5h-5zM534.5 122.4h5v5h-5zM538.1 119.4h5v5h-5zM536.6 120.9h5v5h-5zM534.8 122.4h5v5h-5zM534.0 123.6h5v5h-5zM512.9 139.6h5v5h-5zM514.7 138.5h5v5h-5zM513.8 139.6h5v5h-5zM513.7 139.6h5v5h-5zM515.0 137.6h5v5h-5zM512.8 139.6h5v5h-5zM518.0 135.6h5v5h-5zM514.3 138.9h5v5h-5zM513.2 140.1h5v5h-5zM513.0 140.2h5v5h-5zM516.3 137.5h5v5h-5zM515.6 137.5h5v5h-5zM617.9 53.1h5v5h-5zM620.1 49.6h5v5h-5zM619.1 51.2h5v5h-5zM617.2 52.4h5v5h-5zM619.9 50.2h5v5h-5zM616.6 53.1h5v5h-5zM618.9 51.9h5v5h-5zM612.3 58.1h5v5h-5zM612.2 57.2h5v5h-5zM612.5 57.2h5v5h-5zM611.3 57.5h5v5h-5zM482.0 167.1h5v5h-5zM480.9 167.7h5v5h-5zM483.5 165.6h5v5h-5zM481.0 167.3h5v5h-5zM482.7 166.3h5v5h-5zM482.2 166.5h5v5h-5zM481.7 167.1h5v5h-5zM480.1 168.6h5v5h-5zM482.3 166.6h5v5h-5zM481.9 166.7h5v5h-5zM481.9 167.1h5v5h-5zM491.4 158.6h5v5h-5zM491.4 158.3h5v5h-5zM489.5 159.9h5v5h-5zM490.4 159.7h5v5h-5zM489.7 160.3h5v5h-5zM488.6 161.3h5v5h-5zM492.4 157.6h5v5h-5zM489.3 160.4h5v5h-5zM488.0 161.4h5v5h-5zM652.0 21.7h5v5h-5zM654.9 19.6h5v5h-5zM653.8 22.0h5v5h-5zM656.5 16.6h5v5h-5zM655.1 19.5h5v5h-5zM653.2 21.8h5v5h-5zM587.6 79.4h5v5h-5zM586.1 80.3h5v5h-5zM589.9 77.7h5v5h-5zM589.7 78.2h5v5h-5zM586.5 80.1h5v5h-5zM586.3 80.2h5v5h-5zM587.6 79.9h5v5h-5zM588.8 78.0h5v5h-5zM437.7 203.9h5v5h-5zM441.3 200.9h5v5h-5zM437.0 204.6h5v5h-5zM437.7 204.1h5v5h-5zM436.0 205.5h5v5h-5zM435.7 205.7h5v5h-5zM436.6 205.2h5v5h-5zM436.0 205.5h5v5h-5zM448.0 194.2h5v5h-5zM450.7 192.1h5v5h-5zM446.6 195.3h5v5h-5zM451.8 190.9h5v5h-5zM448.5 193.8h5v5h-5zM449.4 193.2h5v5h-5zM448.2 194.0h5v5h-5zM447.5 194.7h5v5h-5zM449.3 193.3h5v5h-5zM451.4 191.5h5v5h-5zM451.2 191.6h5v5h-5zM518.4 135.3h5v5h-5zM520.4 134.3h5v5h-5zM519.0 135.0h5v5h-5zM521.1 133.3h5v5h-5zM519.2 135.0h5v5h-5zM520.0 134.4h5v5h-5zM539.5 119.2h5v5h-5zM539.3 119.6h5v5h-5zM538.0 119.5h5v5h-5zM540.8 118.3h5v5h-5zM540.5 118.9h5v5h-5zM542.9 116.8h5v5h-5zM538.5 119.7h5v5h-5zM539.4 119.5h5v5h-5zM599.2 69.0h5v5h-5zM598.9 69.3h5v5h-5zM599.1 70.1h5v5h-5zM601.1 67.1h5v5h-5zM599.2 69.8h5v5h-5zM436.5 205.3h5v5h-5zM437.5 204.4h5v5h-5zM433.8 207.5h5v5h-5zM435.6 205.9h5v5h-5zM433.2 207.9h5v5h-5zM435.7 205.9h5v5h-5zM432.9 208.4h5v5h-5zM436.4 205.2h5v5h-5zM436.8 205.0h5v5h-5zM437.9 204.0h5v5h-5zM417.7 221.3h5v5h-5zM416.7 222.1h5v5h-5zM418.9 220.3h5v5h-5zM417.9 221.0h5v5h-5zM419.6 219.7h5v5h-5zM417.5 221.4h5v5h-5zM418.0 220.9h5v5h-5zM630.0 44.2h5v5h-5zM630.3 45.2h5v5h-5zM630.1 45.6h5v5h-5zM535.7 120.8h5v5h-5zM528.5 127.7h5v5h-5zM530.5 125.1h5v5h-5zM530.8 124.3h5v5h-5zM531.9 123.6h5v5h-5zM528.7 126.1h5v5h-5zM534.3 122.3h5v5h-5zM532.6 123.2h5v5h-5zM552.6 105.9h5v5h-5zM550.9 107.7h5v5h-5zM551.0 107.9h5v5h-5zM549.2 108.8h5v5h-5zM548.9 108.7h5v5h-5zM550.7 107.3h5v5h-5zM551.1 106.7h5v5h-5zM551.8 106.8h5v5h-5zM550.4 108.4h5v5h-5zM468.4 178.3h5v5h-5zM473.9 173.7h5v5h-5zM474.0 173.6h5v5h-5zM473.1 174.3h5v5h-5zM473.9 173.6h5v5h-5zM472.9 174.3h5v5h-5zM476.2 171.8h5v5h-5zM472.0 175.4h5v5h-5zM472.6 174.6h5v5h-5zM483.7 165.4h5v5h-5zM483.1 165.6h5v5h-5zM488.2 161.6h5v5h-5zM485.0 164.2h5v5h-5zM484.4 164.6h5v5h-5zM483.5 165.6h5v5h-5zM484.4 164.7h5v5h-5zM486.1 163.6h5v5h-5zM483.8 165.5h5v5h-5zM482.5 166.6h5v5h-5zM484.8 164.5h5v5h-5zM478.0 169.2h5v5h-5zM480.4 167.3h5v5h-5zM479.0 168.3h5v5h-5zM480.3 167.4h5v5h-5zM480.5 167.1h5v5h-5zM479.3 168.1h5v5h-5zM482.1 166.1h5v5h-5zM478.3 168.9h5v5h-5zM477.2 169.5h5v5h-5zM645.9 25.1h5v5h-5zM644.3 26.3h5v5h-5zM647.0 23.8h5v5h-5zM646.7 24.2h5v5h-5zM646.3 23.7h5v5h-5zM643.2 27.5h5v5h-5zM441.5 200.9h5v5h-5zM439.4 202.9h5v5h-5zM437.6 204.4h5v5h-5zM436.9 204.8h5v5h-5zM438.5 203.5h5v5h-5zM439.8 202.5h5v5h-5zM440.3 202.0h5v5h-5zM441.5 200.9h5v5h-5zM438.3 203.7h5v5h-5zM438.6 203.4h5v5h-5zM443.2 199.6h5v5h-5zM653.8 21.2h5v5h-5zM655.1 19.4h5v5h-5zM655.5 19.6h5v5h-5zM435.3 207.0h5v5h-5zM435.7 206.8h5v5h-5zM435.7 206.7h5v5h-5zM437.2 205.5h5v5h-5zM436.4 206.2h5v5h-5zM436.5 206.2h5v5h-5zM438.4 204.4h5v5h-5zM437.1 205.6h5v5h-5zM437.5 205.3h5v5h-5zM438.7 204.2h5v5h-5zM479.5 168.8h5v5h-5zM476.6 171.4h5v5h-5zM475.8 172.5h5v5h-5zM477.5 170.4h5v5h-5zM478.9 169.5h5v5h-5zM478.3 170.2h5v5h-5zM482.2 166.8h5v5h-5zM476.7 171.2h5v5h-5zM496.6 154.5h5v5h-5zM496.1 154.8h5v5h-5zM495.8 154.6h5v5h-5zM494.7 155.8h5v5h-5zM496.8 153.5h5v5h-5zM497.6 153.9h5v5h-5zM495.9 155.0h5v5h-5zM497.1 153.3h5v5h-5zM518.1 135.4h5v5h-5zM513.4 139.5h5v5h-5zM516.8 136.6h5v5h-5zM517.4 136.9h5v5h-5zM514.5 138.8h5v5h-5zM516.9 136.3h5v5h-5zM465.2 182.2h5v5h-5zM461.0 185.6h5v5h-5zM460.5 186.1h5v5h-5zM459.0 187.4h5v5h-5zM461.8 185.0h5v5h-5zM463.1 184.0h5v5h-5zM459.7 186.7h5v5h-5zM463.5 183.7h5v5h-5zM460.8 185.8h5v5h-5zM461.8 184.8h5v5h-5zM463.9 183.2h5v5h-5zM581.0 84.7h5v5h-5zM581.6 83.3h5v5h-5zM581.4 83.6h5v5h-5zM587.8 77.5h5v5h-5zM585.7 79.4h5v5h-5zM452.4 191.4h5v5h-5zM454.9 189.4h5v5h-5zM456.0 188.3h5v5h-5zM452.7 191.6h5v5h-5zM453.0 191.1h5v5h-5zM455.4 189.1h5v5h-5zM451.6 192.1h5v5h-5zM450.6 193.2h5v5h-5zM454.1 190.3h5v5h-5zM656.4 16.5h5v5h-5zM658.4 13.5h5v5h-5zM657.7 15.6h5v5h-5zM653.8 18.9h5v5h-5zM657.5 15.5h5v5h-5zM656.8 16.5h5v5h-5zM656.8 15.9h5v5h-5zM654.6 17.0h5v5h-5zM656.9 15.7h5v5h-5zM581.5 85.3h5v5h-5zM577.2 89.8h5v5h-5zM581.1 86.4h5v5h-5zM580.7 86.5h5v5h-5zM577.8 87.8h5v5h-5zM580.1 87.0h5v5h-5zM578.1 87.8h5v5h-5zM580.1 85.7h5v5h-5zM631.3 39.5h5v5h-5zM631.0 39.0h5v5h-5zM634.2 36.3h5v5h-5zM632.2 37.9h5v5h-5zM631.6 37.8h5v5h-5zM439.6 202.6h5v5h-5zM438.3 203.7h5v5h-5zM439.9 202.1h5v5h-5zM439.2 203.3h5v5h-5zM441.0 201.4h5v5h-5zM440.0 202.2h5v5h-5zM440.6 202.0h5v5h-5zM440.6 201.8h5v5h-5zM441.5 201.1h5v5h-5zM437.7 204.2h5v5h-5zM435.7 205.7h5v5h-5zM441.7 201.1h5v5h-5zM440.0 202.4h5v5h-5zM441.6 201.0h5v5h-5zM486.4 163.6h5v5h-5zM487.2 162.6h5v5h-5zM488.6 161.2h5v5h-5zM488.6 161.5h5v5h-5zM487.8 162.0h5v5h-5zM488.3 162.0h5v5h-5zM487.5 162.4h5v5h-5zM488.5 161.4h5v5h-5zM526.6 130.0h5v5h-5zM527.0 129.9h5v5h-5zM526.4 130.5h5v5h-5zM524.0 132.7h5v5h-5zM526.0 130.1h5v5h-5zM523.3 132.6h5v5h-5zM531.0 126.1h5v5h-5zM542.8 114.7h5v5h-5zM542.6 114.9h5v5h-5zM541.3 115.9h5v5h-5zM544.9 113.3h5v5h-5zM538.4 119.1h5v5h-5zM541.4 116.2h5v5h-5zM485.9 163.0h5v5h-5zM493.6 157.3h5v5h-5zM488.1 161.8h5v5h-5zM487.9 161.6h5v5h-5zM485.3 164.1h5v5h-5zM488.3 161.1h5v5h-5zM489.6 160.7h5v5h-5zM486.1 163.4h5v5h-5zM487.3 162.7h5v5h-5zM485.2 164.3h5v5h-5zM663.4 13.9h5v5h-5zM665.5 12.2h5v5h-5zM661.3 15.1h5v5h-5zM663.5 13.0h5v5h-5zM663.5 12.9h5v5h-5zM662.4 13.2h5v5h-5zM662.8 12.3h5v5h-5zM660.4 15.6h5v5h-5zM585.0 82.2h5v5h-5zM585.4 81.2h5v5h-5zM584.5 81.4h5v5h-5zM584.9 82.0h5v5h-5zM582.0 84.6h5v5h-5zM586.2 80.7h5v5h-5zM583.4 82.7h5v5h-5zM582.3 83.4h5v5h-5zM572.7 88.7h5v5h-5zM575.4 85.9h5v5h-5zM574.7 87.4h5v5h-5zM578.0 84.3h5v5h-5zM578.5 84.2h5v5h-5zM573.5 88.0h5v5h-5zM577.7 85.1h5v5h-5zM616.6 53.2h5v5h-5zM618.4 52.3h5v5h-5zM617.5 52.4h5v5h-5zM619.2 51.7h5v5h-5zM610.8 57.0h5v5h-5zM613.0 54.5h5v5h-5zM606.1 60.6h5v5h-5zM611.3 56.1h5v5h-5zM615.4 52.8h5v5h-5zM610.2 57.1h5v5h-5zM609.7 58.0h5v5h-5zM634.0 38.3h5v5h-5zM631.7 40.3h5v5h-5zM632.5 40.0h5v5h-5zM635.0 36.1h5v5h-5zM559.3 101.9h5v5h-5zM560.6 100.7h5v5h-5zM561.8 100.4h5v5h-5zM557.4 103.3h5v5h-5zM558.9 101.5h5v5h-5zM559.6 100.7h5v5h-5zM562.4 98.5h5v5h-5zM557.7 103.4h5v5h-5zM557.3 103.6h5v5h-5zM556.0 104.5h5v5h-5zM559.7 101.9h5v5h-5zM561.8 99.3h5v5h-5zM556.8 103.8h5v5h-5zM550.7 107.1h5v5h-5zM550.4 107.0h5v5h-5zM548.8 108.5h5v5h-5zM548.0 109.1h5v5h-5zM548.2 109.6h5v5h-5zM547.9 109.5h5v5h-5zM428.8 211.5h5v5h-5zM427.4 212.7h5v5h-5zM428.0 212.1h5v5h-5zM430.7 209.9h5v5h-5zM427.9 212.4h5v5h-5zM426.1 213.8h5v5h-5zM425.5 214.3h5v5h-5zM428.3 212.0h5v5h-5zM427.8 212.4h5v5h-5zM427.5 212.7h5v5h-5zM426.5 213.5h5v5h-5zM427.4 212.7h5v5h-5zM665.6 9.6h5v5h-5zM668.5 9.6h5v5h-5zM666.0 11.5h5v5h-5zM667.8 10.4h5v5h-5zM593.0 72.0h5v5h-5zM593.6 71.7h5v5h-5zM592.8 71.6h5v5h-5zM596.3 68.5h5v5h-5zM583.0 83.3h5v5h-5zM584.2 82.9h5v5h-5zM583.4 83.1h5v5h-5zM582.0 84.5h5v5h-5zM586.5 80.8h5v5h-5zM584.6 82.5h5v5h-5zM581.0 84.5h5v5h-5zM584.6 81.4h5v5h-5zM582.0 85.1h5v5h-5zM476.1 170.6h5v5h-5zM479.8 167.8h5v5h-5zM476.6 170.3h5v5h-5zM473.7 173.0h5v5h-5zM476.6 170.2h5v5h-5zM474.9 171.9h5v5h-5zM477.9 169.1h5v5h-5zM474.9 171.8h5v5h-5zM475.5 171.6h5v5h-5zM475.2 171.6h5v5h-5zM477.7 169.3h5v5h-5zM475.2 171.6h5v5h-5zM477.3 169.8h5v5h-5zM462.5 182.9h5v5h-5zM464.5 181.4h5v5h-5zM463.1 182.5h5v5h-5zM462.3 182.9h5v5h-5zM463.5 182.4h5v5h-5zM462.0 183.6h5v5h-5zM463.6 182.1h5v5h-5zM463.2 182.7h5v5h-5zM464.6 181.3h5v5h-5zM464.9 181.2h5v5h-5zM464.0 181.6h5v5h-5zM461.9 183.6h5v5h-5zM462.6 183.0h5v5h-5zM463.2 182.2h5v5h-5zM461.8 184.0h5v5h-5zM650.6 23.9h5v5h-5zM647.2 27.8h5v5h-5zM648.5 26.1h5v5h-5zM635.9 36.6h5v5h-5zM635.4 36.8h5v5h-5zM634.5 36.5h5v5h-5zM514.8 138.2h5v5h-5zM517.1 136.6h5v5h-5zM512.9 140.1h5v5h-5zM516.3 137.3h5v5h-5zM520.3 134.0h5v5h-5zM514.5 138.8h5v5h-5zM611.5 56.7h5v5h-5zM612.4 56.2h5v5h-5zM612.5 54.7h5v5h-5zM613.0 54.1h5v5h-5zM613.7 53.3h5v5h-5zM613.2 54.2h5v5h-5zM498.8 153.0h5v5h-5zM498.6 152.8h5v5h-5zM501.7 150.2h5v5h-5zM499.1 152.3h5v5h-5zM498.2 153.3h5v5h-5zM498.0 153.7h5v5h-5zM499.7 152.5h5v5h-5zM500.4 151.5h5v5h-5zM499.2 152.8h5v5h-5zM498.8 152.8h5v5h-5zM421.8 217.7h5v5h-5zM422.1 217.3h5v5h-5zM422.8 216.8h5v5h-5zM423.7 216.1h5v5h-5zM420.9 218.3h5v5h-5zM422.7 217.1h5v5h-5zM419.4 219.6h5v5h-5zM425.1 215.0h5v5h-5zM423.2 216.5h5v5h-5zM423.8 216.1h5v5h-5zM420.9 218.2h5v5h-5zM424.2 215.6h5v5h-5zM419.9 219.4h5v5h-5zM423.1 216.8h5v5h-5zM424.8 215.1h5v5h-5zM452.9 191.7h5v5h-5zM452.8 191.7h5v5h-5zM455.0 190.0h5v5h-5zM455.0 189.8h5v5h-5zM451.8 192.5h5v5h-5zM464.8 180.9h5v5h-5zM464.1 181.8h5v5h-5zM458.7 186.4h5v5h-5zM462.1 183.5h5v5h-5zM462.6 183.0h5v5h-5zM463.4 182.4h5v5h-5zM457.2 187.5h5v5h-5zM464.1 181.7h5v5h-5zM460.7 184.4h5v5h-5zM460.8 184.8h5v5h-5zM463.4 182.3h5v5h-5zM427.3 212.9h5v5h-5zM426.5 213.5h5v5h-5zM427.0 213.2h5v5h-5zM425.1 214.8h5v5h-5zM426.5 213.6h5v5h-5zM426.9 213.1h5v5h-5zM426.4 213.5h5v5h-5zM424.9 215.1h5v5h-5zM424.7 215.2h5v5h-5zM426.0 214.1h5v5h-5zM423.9 215.8h5v5h-5zM427.6 212.7h5v5h-5zM648.1 27.5h5v5h-5zM645.9 30.7h5v5h-5zM647.2 30.0h5v5h-5zM645.5 31.5h5v5h-5zM647.5 29.6h5v5h-5zM649.1 27.6h5v5h-5zM644.9 32.3h5v5h-5zM644.2 31.9h5v5h-5zM646.7 30.5h5v5h-5zM648.9 28.6h5v5h-5zM607.1 61.4h5v5h-5zM606.9 62.0h5v5h-5zM605.8 64.7h5v5h-5zM632.8 34.4h5v5h-5zM628.7 40.3h5v5h-5zM632.7 35.6h5v5h-5zM630.1 37.1h5v5h-5zM630.1 37.7h5v5h-5zM631.6 36.0h5v5h-5zM508.9 143.4h5v5h-5zM507.2 144.5h5v5h-5zM506.1 145.4h5v5h-5zM510.3 142.2h5v5h-5zM507.0 144.8h5v5h-5zM511.0 141.5h5v5h-5zM506.4 145.5h5v5h-5zM504.9 146.3h5v5h-5zM509.0 143.5h5v5h-5zM562.4 98.0h5v5h-5zM603.5 63.4h5v5h-5zM604.4 62.0h5v5h-5zM601.5 65.5h5v5h-5zM607.0 59.6h5v5h-5zM419.8 219.5h5v5h-5zM420.1 219.3h5v5h-5zM423.1 216.5h5v5h-5zM421.9 217.4h5v5h-5zM421.9 217.4h5v5h-5zM422.8 216.8h5v5h-5zM419.4 219.5h5v5h-5zM421.9 217.6h5v5h-5zM422.3 217.3h5v5h-5zM419.7 219.3h5v5h-5zM422.2 217.3h5v5h-5zM595.5 72.6h5v5h-5zM598.6 68.6h5v5h-5zM594.9 72.4h5v5h-5zM595.5 71.6h5v5h-5zM595.7 71.2h5v5h-5zM598.9 68.6h5v5h-5zM516.7 137.6h5v5h-5zM512.3 140.5h5v5h-5zM512.9 140.3h5v5h-5zM514.1 139.5h5v5h-5zM513.5 139.9h5v5h-5zM513.6 139.9h5v5h-5zM513.0 141.2h5v5h-5zM500.9 150.6h5v5h-5zM501.4 149.8h5v5h-5zM502.6 149.0h5v5h-5zM498.8 151.6h5v5h-5zM500.2 150.9h5v5h-5zM497.8 153.2h5v5h-5zM501.0 150.4h5v5h-5zM501.5 149.9h5v5h-5zM502.9 149.9h5v5h-5zM501.3 151.4h5v5h-5zM499.5 153.0h5v5h-5zM502.5 149.9h5v5h-5zM500.9 151.7h5v5h-5zM499.4 153.1h5v5h-5zM502.9 150.2h5v5h-5zM502.6 150.4h5v5h-5zM499.5 153.4h5v5h-5zM633.9 39.6h5v5h-5zM632.2 40.1h5v5h-5zM631.7 41.3h5v5h-5zM605.2 60.3h5v5h-5zM607.9 58.6h5v5h-5zM607.7 57.5h5v5h-5zM606.8 59.4h5v5h-5zM606.9 59.8h5v5h-5zM609.9 56.2h5v5h-5zM658.0 14.2h5v5h-5zM656.0 16.8h5v5h-5zM660.9 11.5h5v5h-5zM657.0 15.8h5v5h-5zM660.4 11.3h5v5h-5zM657.2 13.3h5v5h-5zM554.8 105.6h5v5h-5zM556.2 104.4h5v5h-5zM558.9 101.6h5v5h-5zM555.2 104.4h5v5h-5zM555.7 104.9h5v5h-5zM557.1 103.5h5v5h-5zM555.6 104.6h5v5h-5zM557.0 104.6h5v5h-5zM557.7 102.8h5v5h-5zM555.5 105.1h5v5h-5zM555.2 105.2h5v5h-5zM554.5 105.2h5v5h-5zM636.3 35.1h5v5h-5zM633.3 35.4h5v5h-5zM636.5 34.4h5v5h-5zM635.5 35.9h5v5h-5zM608.5 60.8h5v5h-5zM611.4 59.5h5v5h-5zM611.5 57.8h5v5h-5zM613.1 55.7h5v5h-5zM612.7 57.0h5v5h-5zM612.9 58.1h5v5h-5zM614.3 55.3h5v5h-5zM458.8 186.2h5v5h-5zM459.6 185.9h5v5h-5zM455.8 189.0h5v5h-5zM455.5 189.2h5v5h-5zM460.2 185.1h5v5h-5zM461.3 184.1h5v5h-5zM458.0 186.7h5v5h-5zM459.4 185.8h5v5h-5zM459.3 185.8h5v5h-5zM459.7 185.5h5v5h-5zM457.2 187.8h5v5h-5zM423.3 216.8h5v5h-5zM421.4 218.5h5v5h-5zM422.4 217.5h5v5h-5zM419.9 219.4h5v5h-5zM426.0 214.6h5v5h-5zM421.9 217.8h5v5h-5zM422.1 217.8h5v5h-5zM422.5 217.5h5v5h-5zM423.2 216.8h5v5h-5zM426.0 214.4h5v5h-5zM422.5 217.4h5v5h-5zM451.7 192.1h5v5h-5zM453.5 190.6h5v5h-5zM450.8 193.0h5v5h-5zM452.0 191.8h5v5h-5zM451.5 192.4h5v5h-5zM452.0 191.8h5v5h-5zM452.6 191.4h5v5h-5zM452.3 191.8h5v5h-5zM450.8 192.9h5v5h-5zM451.0 192.8h5v5h-5zM451.8 192.2h5v5h-5zM452.2 191.8h5v5h-5zM452.5 191.5h5v5h-5zM453.4 190.8h5v5h-5zM569.3 94.3h5v5h-5zM572.6 91.7h5v5h-5zM572.6 91.9h5v5h-5zM568.6 95.7h5v5h-5zM567.9 96.1h5v5h-5zM455.0 189.2h5v5h-5zM454.2 189.7h5v5h-5zM456.2 187.7h5v5h-5zM456.8 187.5h5v5h-5zM454.9 188.7h5v5h-5zM450.7 192.8h5v5h-5zM455.5 188.5h5v5h-5zM457.6 186.8h5v5h-5zM455.4 188.7h5v5h-5zM520.0 133.7h5v5h-5zM517.2 136.1h5v5h-5zM518.1 135.6h5v5h-5zM521.9 131.5h5v5h-5zM520.1 133.9h5v5h-5zM522.6 131.1h5v5h-5zM518.9 134.5h5v5h-5zM455.4 189.7h5v5h-5zM455.6 189.6h5v5h-5zM457.6 187.8h5v5h-5zM456.6 188.9h5v5h-5zM455.4 189.5h5v5h-5zM455.5 189.8h5v5h-5zM455.4 189.7h5v5h-5zM455.0 190.0h5v5h-5zM455.4 189.9h5v5h-5zM455.9 189.3h5v5h-5zM456.6 188.6h5v5h-5zM456.5 188.6h5v5h-5zM456.8 188.8h5v5h-5zM459.7 186.0h5v5h-5zM599.4 65.4h5v5h-5zM601.1 64.0h5v5h-5zM602.3 63.8h5v5h-5zM601.6 63.5h5v5h-5zM599.0 65.9h5v5h-5zM600.9 65.2h5v5h-5zM600.7 65.5h5v5h-5zM424.0 216.1h5v5h-5zM421.9 217.7h5v5h-5zM421.6 218.1h5v5h-5zM422.8 216.9h5v5h-5zM424.6 215.7h5v5h-5zM421.8 218.1h5v5h-5zM424.0 216.1h5v5h-5zM627.7 45.7h5v5h-5zM633.1 41.4h5v5h-5zM630.8 43.2h5v5h-5zM630.3 43.0h5v5h-5zM630.0 43.9h5v5h-5zM627.5 45.5h5v5h-5zM630.2 43.1h5v5h-5zM629.5 44.4h5v5h-5zM626.7 46.1h5v5h-5zM427.4 213.0h5v5h-5zM428.0 212.4h5v5h-5zM425.1 215.1h5v5h-5zM425.3 214.7h5v5h-5zM427.4 213.1h5v5h-5zM427.8 212.7h5v5h-5zM427.4 213.2h5v5h-5zM431.3 209.3h5v5h-5zM431.9 208.8h5v5h-5zM432.5 208.4h5v5h-5zM432.4 208.6h5v5h-5zM432.7 208.2h5v5h-5zM430.8 209.9h5v5h-5zM430.9 209.7h5v5h-5zM431.9 209.1h5v5h-5zM432.5 208.4h5v5h-5zM433.8 207.4h5v5h-5zM560.4 100.3h5v5h-5zM558.1 103.2h5v5h-5zM558.1 102.4h5v5h-5zM561.3 99.4h5v5h-5zM562.4 99.1h5v5h-5zM562.2 98.2h5v5h-5zM489.2 160.9h5v5h-5zM488.0 161.7h5v5h-5zM485.5 164.1h5v5h-5zM489.6 160.4h5v5h-5zM486.9 163.1h5v5h-5zM489.5 160.8h5v5h-5zM487.2 162.4h5v5h-5zM486.3 163.3h5v5h-5zM485.6 164.5h5v5h-5zM489.9 160.1h5v5h-5zM487.0 162.3h5v5h-5zM488.1 162.0h5v5h-5zM487.1 162.8h5v5h-5zM486.6 163.4h5v5h-5zM615.5 54.5h5v5h-5zM616.1 54.7h5v5h-5zM614.7 55.2h5v5h-5zM616.7 52.1h5v5h-5zM619.9 51.1h5v5h-5zM420.2 218.9h5v5h-5zM420.6 218.3h5v5h-5zM416.8 221.6h5v5h-5zM419.9 219.1h5v5h-5zM618.7 53.3h5v5h-5zM616.6 54.6h5v5h-5zM619.0 52.7h5v5h-5zM640.6 31.4h5v5h-5zM636.5 33.4h5v5h-5zM639.4 31.5h5v5h-5zM641.5 30.3h5v5h-5zM627.5 43.9h5v5h-5zM631.2 41.4h5v5h-5zM626.1 45.1h5v5h-5zM627.6 45.3h5v5h-5zM628.3 42.7h5v5h-5zM629.2 43.7h5v5h-5zM628.8 43.3h5v5h-5zM629.4 43.1h5v5h-5zM628.7 44.7h5v5h-5zM509.5 143.9h5v5h-5zM509.9 143.9h5v5h-5zM509.8 143.7h5v5h-5zM515.1 139.3h5v5h-5zM511.0 143.3h5v5h-5zM511.4 142.7h5v5h-5zM511.9 141.9h5v5h-5zM511.4 142.5h5v5h-5zM510.3 143.6h5v5h-5zM508.0 145.7h5v5h-5zM454.5 189.4h5v5h-5zM452.7 190.8h5v5h-5zM454.2 189.8h5v5h-5zM455.5 188.8h5v5h-5zM457.5 186.8h5v5h-5zM453.3 190.5h5v5h-5zM454.7 189.6h5v5h-5zM452.6 190.6h5v5h-5zM452.6 190.9h5v5h-5zM450.9 192.2h5v5h-5zM455.1 188.7h5v5h-5zM579.7 84.7h5v5h-5zM583.7 81.4h5v5h-5zM581.1 84.7h5v5h-5zM582.6 82.6h5v5h-5zM583.8 80.7h5v5h-5zM657.6 17.4h5v5h-5zM660.1 14.7h5v5h-5zM659.9 14.1h5v5h-5zM657.3 16.9h5v5h-5zM656.3 17.7h5v5h-5zM657.9 15.5h5v5h-5zM658.8 16.0h5v5h-5zM657.8 16.7h5v5h-5zM658.2 17.0h5v5h-5zM658.3 16.3h5v5h-5zM468.8 178.6h5v5h-5zM469.6 178.4h5v5h-5zM470.4 177.8h5v5h-5zM468.4 179.1h5v5h-5zM471.3 176.7h5v5h-5zM468.4 179.3h5v5h-5zM469.0 178.8h5v5h-5zM473.4 175.2h5v5h-5zM470.9 177.0h5v5h-5zM469.4 178.4h5v5h-5zM470.7 176.9h5v5h-5zM438.7 203.1h5v5h-5zM438.6 203.0h5v5h-5zM438.7 202.8h5v5h-5zM437.8 203.7h5v5h-5zM436.7 204.8h5v5h-5zM435.9 205.4h5v5h-5zM439.3 202.5h5v5h-5zM655.0 20.1h5v5h-5zM653.9 21.6h5v5h-5zM654.9 22.6h5v5h-5zM602.4 65.0h5v5h-5zM605.9 63.1h5v5h-5zM600.8 66.7h5v5h-5zM418.3 220.8h5v5h-5zM416.3 222.4h5v5h-5zM417.3 221.7h5v5h-5zM418.9 220.2h5v5h-5zM417.5 221.4h5v5h-5zM416.7 222.0h5v5h-5zM519.7 136.0h5v5h-5zM521.5 134.7h5v5h-5zM519.5 135.9h5v5h-5zM517.7 137.7h5v5h-5zM518.7 136.9h5v5h-5zM517.3 138.3h5v5h-5zM518.6 136.6h5v5h-5zM520.8 134.8h5v5h-5zM513.6 139.3h5v5h-5zM513.8 139.6h5v5h-5zM516.5 137.3h5v5h-5zM516.3 137.3h5v5h-5zM516.1 137.4h5v5h-5zM516.9 136.5h5v5h-5zM515.5 137.5h5v5h-5zM513.8 139.3h5v5h-5zM481.1 168.0h5v5h-5zM482.0 167.0h5v5h-5zM480.5 168.4h5v5h-5zM481.2 167.6h5v5h-5zM480.5 168.7h5v5h-5zM483.2 166.2h5v5h-5zM481.7 167.6h5v5h-5zM483.9 165.4h5v5h-5zM483.0 166.1h5v5h-5zM487.9 162.1h5v5h-5zM588.5 74.4h5v5h-5zM589.7 72.9h5v5h-5zM589.6 73.4h5v5h-5zM586.9 76.1h5v5h-5zM589.9 71.9h5v5h-5zM589.3 73.4h5v5h-5zM588.6 73.9h5v5h-5zM574.3 90.0h5v5h-5zM577.1 87.7h5v5h-5zM574.7 89.2h5v5h-5zM576.6 87.7h5v5h-5zM577.5 86.2h5v5h-5zM577.5 87.6h5v5h-5zM576.7 88.9h5v5h-5zM575.9 88.3h5v5h-5zM576.6 87.8h5v5h-5zM575.8 88.2h5v5h-5zM575.7 89.9h5v5h-5zM575.7 89.1h5v5h-5zM436.9 204.9h5v5h-5zM437.7 204.3h5v5h-5zM436.8 205.1h5v5h-5zM438.0 204.1h5v5h-5zM437.5 204.6h5v5h-5zM436.3 205.5h5v5h-5zM435.1 206.3h5v5h-5zM437.1 204.6h5v5h-5zM432.5 208.7h5v5h-5zM435.0 206.7h5v5h-5zM436.5 205.4h5v5h-5zM437.0 204.7h5v5h-5zM434.7 206.9h5v5h-5zM438.3 203.6h5v5h-5zM591.9 74.4h5v5h-5zM588.4 79.0h5v5h-5zM592.7 74.5h5v5h-5zM429.1 211.2h5v5h-5zM429.1 211.2h5v5h-5zM429.3 211.1h5v5h-5zM429.4 210.8h5v5h-5zM431.4 209.4h5v5h-5zM431.1 209.6h5v5h-5zM428.0 212.1h5v5h-5zM427.1 212.7h5v5h-5zM428.3 211.9h5v5h-5zM428.5 211.6h5v5h-5zM431.8 208.9h5v5h-5zM428.6 211.8h5v5h-5zM635.3 36.5h5v5h-5zM637.5 35.0h5v5h-5zM636.1 35.9h5v5h-5zM637.0 35.2h5v5h-5zM635.2 37.5h5v5h-5zM636.4 36.0h5v5h-5zM636.8 35.3h5v5h-5zM635.8 35.9h5v5h-5zM609.1 57.9h5v5h-5zM609.9 57.2h5v5h-5zM607.9 59.4h5v5h-5zM608.4 57.7h5v5h-5zM607.1 59.5h5v5h-5zM608.6 59.1h5v5h-5zM606.0 59.7h5v5h-5zM495.8 154.1h5v5h-5zM495.2 154.9h5v5h-5zM495.7 154.4h5v5h-5zM496.6 153.8h5v5h-5zM497.6 152.7h5v5h-5zM524.1 131.5h5v5h-5zM521.2 133.3h5v5h-5zM522.4 132.7h5v5h-5zM524.0 131.4h5v5h-5zM521.3 134.2h5v5h-5zM632.9 39.9h5v5h-5zM633.8 40.3h5v5h-5zM635.5 37.2h5v5h-5zM630.8 41.2h5v5h-5zM638.0 35.4h5v5h-5zM633.7 40.4h5v5h-5zM633.4 40.5h5v5h-5zM634.4 38.7h5v5h-5zM637.3 36.3h5v5h-5zM527.9 125.9h5v5h-5zM527.4 126.7h5v5h-5zM529.2 125.0h5v5h-5zM529.9 124.4h5v5h-5zM530.9 123.3h5v5h-5zM528.3 126.1h5v5h-5zM529.9 124.8h5v5h-5zM528.0 126.1h5v5h-5zM528.2 126.0h5v5h-5zM530.5 123.8h5v5h-5zM601.6 65.7h5v5h-5zM595.4 71.1h5v5h-5zM611.5 52.6h5v5h-5zM610.8 53.0h5v5h-5zM612.7 51.0h5v5h-5zM449.2 194.2h5v5h-5zM445.9 196.7h5v5h-5zM448.6 194.6h5v5h-5zM448.2 194.7h5v5h-5zM452.4 190.9h5v5h-5zM453.5 190.4h5v5h-5zM449.7 193.4h5v5h-5zM453.4 190.7h5v5h-5zM449.8 193.4h5v5h-5zM442.3 200.8h5v5h-5zM445.0 198.5h5v5h-5zM440.4 202.4h5v5h-5zM443.6 199.6h5v5h-5zM445.5 198.1h5v5h-5zM443.1 200.0h5v5h-5zM443.4 199.7h5v5h-5zM441.2 201.7h5v5h-5zM442.8 200.4h5v5h-5zM444.3 199.0h5v5h-5zM430.4 210.3h5v5h-5zM425.4 214.5h5v5h-5zM426.5 213.4h5v5h-5zM426.2 213.7h5v5h-5zM425.7 214.1h5v5h-5zM428.1 212.1h5v5h-5zM431.9 209.1h5v5h-5zM427.4 212.6h5v5h-5zM428.2 212.1h5v5h-5zM428.4 211.9h5v5h-5zM427.2 212.9h5v5h-5zM487.5 163.2h5v5h-5zM487.0 163.5h5v5h-5zM489.9 160.6h5v5h-5zM488.2 162.1h5v5h-5zM488.9 161.9h5v5h-5zM490.9 160.0h5v5h-5zM489.0 161.5h5v5h-5zM490.0 160.7h5v5h-5zM427.4 212.6h5v5h-5zM426.4 213.4h5v5h-5zM426.9 213.0h5v5h-5zM424.6 215.0h5v5h-5zM426.2 213.7h5v5h-5zM427.0 212.9h5v5h-5zM428.8 211.5h5v5h-5zM429.1 211.3h5v5h-5zM425.8 213.9h5v5h-5zM429.1 211.2h5v5h-5zM427.2 212.7h5v5h-5zM578.0 84.0h5v5h-5zM577.4 85.0h5v5h-5zM580.3 82.4h5v5h-5zM578.3 83.9h5v5h-5zM573.2 88.1h5v5h-5zM580.5 82.3h5v5h-5zM586.1 79.8h5v5h-5zM585.3 80.8h5v5h-5zM585.5 80.1h5v5h-5zM588.5 77.4h5v5h-5zM440.1 201.9h5v5h-5zM441.6 200.6h5v5h-5zM437.3 204.2h5v5h-5zM436.5 205.0h5v5h-5zM439.4 202.4h5v5h-5zM441.5 200.6h5v5h-5zM438.2 203.7h5v5h-5zM643.2 26.9h5v5h-5zM647.1 24.5h5v5h-5zM645.2 26.9h5v5h-5zM642.2 28.5h5v5h-5zM645.7 25.0h5v5h-5zM506.9 145.0h5v5h-5zM504.1 147.0h5v5h-5zM461.6 183.7h5v5h-5zM458.5 186.4h5v5h-5zM459.9 185.5h5v5h-5zM461.3 184.1h5v5h-5zM459.3 185.8h5v5h-5zM460.7 184.4h5v5h-5zM460.7 184.4h5v5h-5zM461.2 184.2h5v5h-5zM460.9 184.6h5v5h-5zM457.2 187.6h5v5h-5zM461.3 184.3h5v5h-5zM634.1 37.2h5v5h-5zM632.8 38.9h5v5h-5zM631.7 40.0h5v5h-5zM631.8 39.8h5v5h-5zM630.0 40.4h5v5h-5zM631.1 40.1h5v5h-5zM630.0 41.5h5v5h-5zM459.5 185.8h5v5h-5zM455.4 189.2h5v5h-5zM457.0 187.5h5v5h-5zM456.2 188.5h5v5h-5zM455.4 188.9h5v5h-5zM452.2 191.8h5v5h-5zM454.9 189.5h5v5h-5zM457.5 187.7h5v5h-5zM456.9 187.6h5v5h-5zM460.1 185.1h5v5h-5zM452.9 190.9h5v5h-5zM419.1 220.3h5v5h-5zM422.6 217.3h5v5h-5zM422.1 217.7h5v5h-5zM417.4 221.6h5v5h-5zM421.1 218.5h5v5h-5zM424.3 215.8h5v5h-5zM421.0 218.6h5v5h-5zM418.5 220.7h5v5h-5zM421.6 218.0h5v5h-5zM419.4 219.9h5v5h-5zM656.9 15.7h5v5h-5zM657.5 15.2h5v5h-5zM656.6 16.9h5v5h-5zM656.0 17.0h5v5h-5zM658.3 15.9h5v5h-5zM658.2 17.5h5v5h-5zM657.9 14.9h5v5h-5zM655.3 18.0h5v5h-5zM427.9 213.1h5v5h-5zM427.2 213.5h5v5h-5zM425.6 214.8h5v5h-5zM427.2 213.6h5v5h-5zM429.9 211.3h5v5h-5zM427.6 213.1h5v5h-5zM427.2 213.5h5v5h-5zM425.3 215.4h5v5h-5zM425.0 215.4h5v5h-5zM426.7 213.9h5v5h-5zM428.5 212.4h5v5h-5zM427.4 213.5h5v5h-5zM423.4 216.8h5v5h-5zM428.1 212.8h5v5h-5zM426.5 215.0h5v5h-5zM424.9 216.2h5v5h-5zM426.2 215.1h5v5h-5zM425.4 215.7h5v5h-5zM425.5 215.6h5v5h-5zM426.2 215.1h5v5h-5zM428.9 212.8h5v5h-5zM568.2 93.1h5v5h-5zM569.7 91.2h5v5h-5zM565.3 95.3h5v5h-5zM568.0 91.7h5v5h-5zM571.4 90.6h5v5h-5zM570.0 91.0h5v5h-5zM572.4 89.4h5v5h-5zM571.0 89.0h5v5h-5zM570.8 90.9h5v5h-5zM570.9 90.5h5v5h-5zM573.9 87.5h5v5h-5zM564.0 99.6h5v5h-5zM565.5 98.8h5v5h-5zM567.0 96.4h5v5h-5zM563.1 100.0h5v5h-5zM565.4 97.6h5v5h-5zM564.3 98.8h5v5h-5zM662.2 17.6h5v5h-5zM658.0 20.3h5v5h-5zM656.7 21.0h5v5h-5zM660.6 18.2h5v5h-5zM658.4 18.1h5v5h-5zM656.0 21.9h5v5h-5zM471.5 176.0h5v5h-5zM466.1 180.3h5v5h-5zM466.9 179.8h5v5h-5zM469.2 177.7h5v5h-5zM469.7 177.2h5v5h-5zM469.5 177.5h5v5h-5zM469.7 177.3h5v5h-5zM470.3 176.7h5v5h-5zM466.5 179.9h5v5h-5zM468.9 178.0h5v5h-5zM465.4 181.0h5v5h-5zM426.7 213.8h5v5h-5zM427.5 213.0h5v5h-5zM424.8 215.5h5v5h-5zM423.3 216.7h5v5h-5zM429.2 211.9h5v5h-5zM428.8 212.1h5v5h-5zM424.2 216.1h5v5h-5zM427.7 212.9h5v5h-5zM427.2 213.5h5v5h-5zM522.8 132.9h5v5h-5zM522.0 133.6h5v5h-5zM521.3 134.1h5v5h-5zM527.1 128.5h5v5h-5zM523.2 132.0h5v5h-5zM525.2 130.4h5v5h-5zM523.7 131.8h5v5h-5zM521.4 133.3h5v5h-5zM653.4 21.4h5v5h-5zM654.2 21.7h5v5h-5zM655.2 21.2h5v5h-5zM652.8 21.2h5v5h-5zM610.5 58.5h5v5h-5zM611.5 57.5h5v5h-5zM611.4 58.3h5v5h-5zM611.9 56.3h5v5h-5zM529.1 126.1h5v5h-5zM531.1 123.9h5v5h-5zM531.1 124.4h5v5h-5zM530.9 124.1h5v5h-5zM528.2 126.4h5v5h-5zM530.7 125.0h5v5h-5zM530.6 124.0h5v5h-5zM530.6 124.5h5v5h-5zM533.5 122.3h5v5h-5zM438.5 203.3h5v5h-5zM434.8 206.6h5v5h-5zM436.1 205.2h5v5h-5zM437.0 204.8h5v5h-5zM437.4 204.3h5v5h-5zM437.3 204.3h5v5h-5zM545.3 114.1h5v5h-5zM546.7 111.9h5v5h-5zM546.1 113.2h5v5h-5zM549.1 110.3h5v5h-5zM545.9 113.4h5v5h-5zM547.6 111.3h5v5h-5zM547.6 111.8h5v5h-5zM542.2 117.0h5v5h-5zM610.9 61.8h5v5h-5zM610.5 62.1h5v5h-5zM588.6 77.0h5v5h-5zM592.4 73.5h5v5h-5zM587.0 79.0h5v5h-5zM591.0 74.9h5v5h-5zM588.5 76.6h5v5h-5zM589.2 76.9h5v5h-5zM592.8 74.1h5v5h-5zM592.3 74.9h5v5h-5zM442.6 200.2h5v5h-5zM440.9 201.4h5v5h-5zM442.8 200.2h5v5h-5zM442.2 200.6h5v5h-5zM441.9 200.6h5v5h-5zM439.5 202.8h5v5h-5zM444.5 198.6h5v5h-5zM440.5 201.8h5v5h-5zM442.4 200.3h5v5h-5zM442.7 199.8h5v5h-5zM441.0 201.6h5v5h-5zM441.8 200.8h5v5h-5zM442.5 200.4h5v5h-5zM492.4 155.6h5v5h-5zM494.1 154.4h5v5h-5zM494.9 153.7h5v5h-5zM493.6 154.8h5v5h-5zM496.0 153.0h5v5h-5zM491.5 156.3h5v5h-5zM491.3 157.0h5v5h-5zM493.0 155.5h5v5h-5zM491.3 156.6h5v5h-5zM494.2 154.7h5v5h-5zM493.9 154.8h5v5h-5zM663.6 12.6h5v5h-5zM667.4 9.1h5v5h-5zM663.7 12.3h5v5h-5zM664.6 11.9h5v5h-5zM663.6 12.8h5v5h-5zM666.9 8.5h5v5h-5zM418.2 220.8h5v5h-5zM419.6 219.6h5v5h-5zM419.3 219.9h5v5h-5zM419.2 220.0h5v5h-5zM417.7 221.1h5v5h-5zM417.8 221.3h5v5h-5zM418.6 220.5h5v5h-5zM419.9 219.5h5v5h-5zM421.1 218.4h5v5h-5zM419.8 219.5h5v5h-5zM420.3 219.0h5v5h-5zM419.1 220.0h5v5h-5zM418.0 221.0h5v5h-5zM416.6 222.3h5v5h-5zM418.5 220.6h5v5h-5zM418.6 220.4h5v5h-5zM420.1 219.4h5v5h-5zM420.0 219.3h5v5h-5zM594.8 72.7h5v5h-5zM593.4 74.2h5v5h-5zM596.0 70.8h5v5h-5zM594.2 73.6h5v5h-5zM594.2 73.3h5v5h-5zM592.8 74.0h5v5h-5zM594.5 72.1h5v5h-5zM497.5 153.3h5v5h-5zM494.7 155.5h5v5h-5zM497.1 153.8h5v5h-5zM500.5 150.6h5v5h-5zM495.2 155.1h5v5h-5zM495.0 155.2h5v5h-5zM498.1 152.7h5v5h-5zM495.3 154.6h5v5h-5zM566.0 95.7h5v5h-5zM564.4 97.7h5v5h-5zM566.2 95.3h5v5h-5zM566.2 95.5h5v5h-5zM567.7 94.3h5v5h-5zM566.4 95.4h5v5h-5zM568.1 93.9h5v5h-5zM565.4 95.8h5v5h-5zM566.7 95.3h5v5h-5zM567.8 95.0h5v5h-5zM647.8 25.4h5v5h-5zM646.7 25.0h5v5h-5zM646.9 25.8h5v5h-5zM645.3 27.3h5v5h-5zM645.2 27.6h5v5h-5zM645.4 26.7h5v5h-5zM616.8 55.9h5v5h-5zM620.3 52.3h5v5h-5zM617.4 55.2h5v5h-5zM619.9 53.0h5v5h-5zM473.3 173.7h5v5h-5zM468.0 178.6h5v5h-5zM470.7 176.2h5v5h-5zM470.1 176.5h5v5h-5zM471.9 175.2h5v5h-5zM469.6 177.1h5v5h-5zM504.4 147.5h5v5h-5zM506.7 145.8h5v5h-5zM505.1 147.2h5v5h-5zM502.5 149.4h5v5h-5zM501.0 150.8h5v5h-5zM504.9 147.2h5v5h-5zM506.2 146.1h5v5h-5zM560.6 99.3h5v5h-5zM562.2 97.7h5v5h-5zM557.2 102.9h5v5h-5zM560.8 98.6h5v5h-5zM560.7 98.8h5v5h-5zM630.3 45.0h5v5h-5zM630.1 45.4h5v5h-5zM631.0 43.5h5v5h-5zM630.0 43.7h5v5h-5zM628.8 45.5h5v5h-5zM657.6 18.7h5v5h-5zM657.6 18.2h5v5h-5zM653.2 21.5h5v5h-5zM658.8 17.2h5v5h-5zM489.6 160.6h5v5h-5zM489.9 160.1h5v5h-5zM489.1 160.5h5v5h-5zM488.4 161.6h5v5h-5zM491.3 159.1h5v5h-5zM488.8 161.1h5v5h-5zM491.4 158.8h5v5h-5zM490.3 159.9h5v5h-5zM489.0 161.2h5v5h-5zM489.5 160.6h5v5h-5zM490.2 160.0h5v5h-5zM484.0 165.2h5v5h-5zM483.1 166.4h5v5h-5zM482.5 166.9h5v5h-5zM482.0 167.2h5v5h-5zM481.6 167.4h5v5h-5zM480.9 168.0h5v5h-5zM481.6 167.1h5v5h-5zM480.4 168.2h5v5h-5zM480.8 168.3h5v5h-5zM481.9 167.3h5v5h-5zM482.4 166.7h5v5h-5zM480.3 168.5h5v5h-5zM480.4 167.3h5v5h-5zM479.0 168.6h5v5h-5zM479.7 168.1h5v5h-5zM479.3 168.4h5v5h-5zM481.0 167.0h5v5h-5zM479.4 168.2h5v5h-5zM478.8 168.7h5v5h-5zM479.4 168.5h5v5h-5zM548.3 110.0h5v5h-5zM547.1 112.3h5v5h-5zM547.3 111.1h5v5h-5zM545.8 112.3h5v5h-5zM545.4 113.4h5v5h-5zM544.0 115.1h5v5h-5zM544.8 113.2h5v5h-5zM543.9 114.2h5v5h-5zM547.4 111.6h5v5h-5zM549.1 110.1h5v5h-5zM589.5 73.7h5v5h-5zM588.6 74.2h5v5h-5zM590.9 72.5h5v5h-5zM587.5 75.0h5v5h-5zM482.6 166.5h5v5h-5zM486.1 163.5h5v5h-5zM486.3 163.3h5v5h-5zM485.7 163.4h5v5h-5zM485.4 163.4h5v5h-5zM486.7 162.2h5v5h-5zM483.0 166.1h5v5h-5zM487.2 161.8h5v5h-5zM486.6 162.8h5v5h-5zM519.1 134.8h5v5h-5zM519.1 134.9h5v5h-5zM519.4 134.6h5v5h-5zM522.9 131.4h5v5h-5zM518.7 135.5h5v5h-5zM521.2 133.5h5v5h-5zM519.6 135.0h5v5h-5zM486.7 162.9h5v5h-5zM487.8 161.8h5v5h-5zM486.9 162.7h5v5h-5zM486.1 163.8h5v5h-5zM489.1 160.6h5v5h-5zM487.6 162.4h5v5h-5zM484.7 164.0h5v5h-5zM486.2 163.2h5v5h-5zM486.6 163.0h5v5h-5zM487.7 162.5h5v5h-5zM464.8 181.3h5v5h-5zM465.8 180.1h5v5h-5zM468.7 177.7h5v5h-5zM467.7 178.8h5v5h-5zM465.3 180.8h5v5h-5zM470.5 176.2h5v5h-5zM466.9 179.2h5v5h-5zM463.3 182.0h5v5h-5zM461.7 183.2h5v5h-5zM462.0 182.6h5v5h-5zM464.8 180.6h5v5h-5zM461.3 183.2h5v5h-5zM458.9 185.6h5v5h-5zM462.6 182.4h5v5h-5zM464.0 181.5h5v5h-5zM463.0 181.9h5v5h-5zM462.8 182.0h5v5h-5zM464.8 180.6h5v5h-5zM430.3 210.4h5v5h-5zM431.7 209.1h5v5h-5zM431.7 209.2h5v5h-5zM429.0 211.6h5v5h-5zM430.8 210.0h5v5h-5zM429.9 210.7h5v5h-5zM430.3 210.5h5v5h-5zM425.9 214.2h5v5h-5zM430.6 210.0h5v5h-5zM426.5 213.6h5v5h-5zM426.3 213.7h5v5h-5zM429.2 211.3h5v5h-5zM426.6 213.5h5v5h-5zM431.1 209.6h5v5h-5zM433.3 207.9h5v5h-5zM429.3 211.4h5v5h-5zM427.7 212.6h5v5h-5zM425.8 214.1h5v5h-5zM426.9 213.3h5v5h-5zM423.4 216.2h5v5h-5zM424.6 215.3h5v5h-5zM426.2 213.8h5v5h-5zM423.7 216.0h5v5h-5zM423.1 216.6h5v5h-5zM425.7 214.2h5v5h-5zM421.4 217.9h5v5h-5zM422.7 216.7h5v5h-5zM422.3 217.1h5v5h-5zM425.0 214.8h5v5h-5zM425.5 214.6h5v5h-5zM454.5 189.3h5v5h-5zM454.4 189.7h5v5h-5zM455.1 189.2h5v5h-5zM453.0 190.6h5v5h-5zM455.3 188.6h5v5h-5zM454.8 189.3h5v5h-5zM452.0 191.5h5v5h-5zM449.8 193.6h5v5h-5zM454.1 189.7h5v5h-5zM456.6 187.4h5v5h-5zM454.3 189.7h5v5h-5zM452.1 191.5h5v5h-5zM441.8 200.4h5v5h-5zM442.2 200.3h5v5h-5zM439.4 202.7h5v5h-5zM440.2 201.8h5v5h-5zM435.5 205.8h5v5h-5zM440.0 202.0h5v5h-5zM440.9 201.4h5v5h-5zM433.5 208.2h5v5h-5zM437.5 204.8h5v5h-5zM436.3 205.8h5v5h-5zM436.5 205.7h5v5h-5zM436.1 206.0h5v5h-5zM435.5 206.6h5v5h-5zM436.0 206.0h5v5h-5zM436.9 205.4h5v5h-5zM534.1 122.3h5v5h-5zM538.1 118.7h5v5h-5zM536.2 121.0h5v5h-5zM537.2 119.8h5v5h-5zM534.3 122.3h5v5h-5zM660.6 17.0h5v5h-5zM660.4 17.4h5v5h-5zM662.3 15.6h5v5h-5zM527.9 128.6h5v5h-5zM525.7 130.1h5v5h-5zM660.4 16.3h5v5h-5zM658.3 15.2h5v5h-5zM661.4 12.9h5v5h-5zM659.5 15.8h5v5h-5zM659.1 16.1h5v5h-5zM580.7 81.2h5v5h-5zM579.0 83.8h5v5h-5zM578.7 83.4h5v5h-5zM579.5 82.5h5v5h-5zM581.8 80.6h5v5h-5zM579.0 83.5h5v5h-5zM480.2 167.7h5v5h-5zM482.3 165.5h5v5h-5zM480.5 167.8h5v5h-5zM479.7 168.3h5v5h-5zM481.2 166.7h5v5h-5zM481.3 166.9h5v5h-5zM479.8 168.3h5v5h-5zM479.7 167.8h5v5h-5zM480.7 167.2h5v5h-5zM480.5 167.3h5v5h-5zM482.6 165.9h5v5h-5zM478.9 168.4h5v5h-5zM581.6 82.1h5v5h-5zM583.3 80.8h5v5h-5zM582.2 82.5h5v5h-5zM585.1 79.7h5v5h-5zM647.2 25.9h5v5h-5zM647.3 25.4h5v5h-5zM639.8 32.9h5v5h-5zM642.6 30.1h5v5h-5zM643.9 29.5h5v5h-5zM558.1 101.0h5v5h-5zM556.8 100.8h5v5h-5zM558.8 99.3h5v5h-5zM555.5 102.2h5v5h-5zM558.1 100.5h5v5h-5zM559.1 99.3h5v5h-5zM559.1 99.5h5v5h-5zM557.8 99.2h5v5h-5z" fill="#0c00b2" fill-opacity="0.86"/>
<path d="" fill="#0c00b2" fill-opacity="1"/>
<line x1="418.74" y1="224.82" x2="671.45" y2="10.90" stroke="#97c46f" stroke-width="2.5" stroke-linecap="butt"/>
<rect x="406.1" y="0.4" width="278.2" height="235.2" fill="none" stroke="#cccccc" stroke-width="1.5"/>
<line x1="394.8" y1="229.30" x2="405.4" y2="229.30" class="t"/>
<text transform="translate(387.4,234.25) scale(1,1.07)" class="tl" text-anchor="end">0.0</text>
<line x1="394.8" y1="202.00" x2="405.4" y2="202.00" class="t"/>
<text transform="translate(387.4,206.95) scale(1,1.07)" class="tl" text-anchor="end">0.1</text>
<line x1="394.8" y1="174.70" x2="405.4" y2="174.70" class="t"/>
<text transform="translate(387.4,179.65) scale(1,1.07)" class="tl" text-anchor="end">0.2</text>
<line x1="394.8" y1="147.40" x2="405.4" y2="147.40" class="t"/>
<text transform="translate(387.4,152.35) scale(1,1.07)" class="tl" text-anchor="end">0.3</text>
<line x1="394.8" y1="120.10" x2="405.4" y2="120.10" class="t"/>
<text transform="translate(387.4,125.05) scale(1,1.07)" class="tl" text-anchor="end">0.4</text>
<line x1="394.8" y1="92.80" x2="405.4" y2="92.80" class="t"/>
<text transform="translate(387.4,97.75) scale(1,1.07)" class="tl" text-anchor="end">0.5</text>
<line x1="394.8" y1="65.50" x2="405.4" y2="65.50" class="t"/>
<text transform="translate(387.4,70.45) scale(1,1.07)" class="tl" text-anchor="end">0.6</text>
<line x1="394.8" y1="38.20" x2="405.4" y2="38.20" class="t"/>
<text transform="translate(387.4,43.15) scale(1,1.07)" class="tl" text-anchor="end">0.7</text>
<line x1="394.8" y1="10.90" x2="405.4" y2="10.90" class="t"/>
<text transform="translate(387.4,15.85) scale(1,1.07)" class="tl" text-anchor="end">0.8</text>
<line x1="413.45" y1="236.3" x2="413.45" y2="246.4" class="t"/>
<text transform="translate(413.65,263.3) scale(1,1.07)" class="tl" text-anchor="middle">0.0</text>
<line x1="477.95" y1="236.3" x2="477.95" y2="246.4" class="t"/>
<text transform="translate(478.15,263.3) scale(1,1.07)" class="tl" text-anchor="middle">0.2</text>
<line x1="542.45" y1="236.3" x2="542.45" y2="246.4" class="t"/>
<text transform="translate(542.65,263.3) scale(1,1.07)" class="tl" text-anchor="middle">0.4</text>
<line x1="606.95" y1="236.3" x2="606.95" y2="246.4" class="t"/>
<text transform="translate(607.15,263.3) scale(1,1.07)" class="tl" text-anchor="middle">0.6</text>
<line x1="671.45" y1="236.3" x2="671.45" y2="246.4" class="t"/>
<text transform="translate(671.65,263.3) scale(1,1.07)" class="tl" text-anchor="middle">0.8</text>
<text transform="translate(545.65,282.2) scale(1,1.05)" class="al" text-anchor="middle">Experimental C(mol/m3)</text>
<text transform="translate(361.1,118.10000000000001) rotate(-90) scale(1,1.05)" class="al" text-anchor="middle">Predicted C(mol/m3)</text>
<rect x="424.8" y="13.1" width="5" height="5" fill="#0c00b2" fill-opacity="0.62"/>
<line x1="414.9" y1="30.1" x2="439.1" y2="30.1" stroke="#97c46f" stroke-width="2.1"/>
<text x="447.1" y="18.4" class="lg">Train Data</text>
<text x="447.1" y="33.6" class="lg">Perfect Prediction</text>
</svg></body></html>
